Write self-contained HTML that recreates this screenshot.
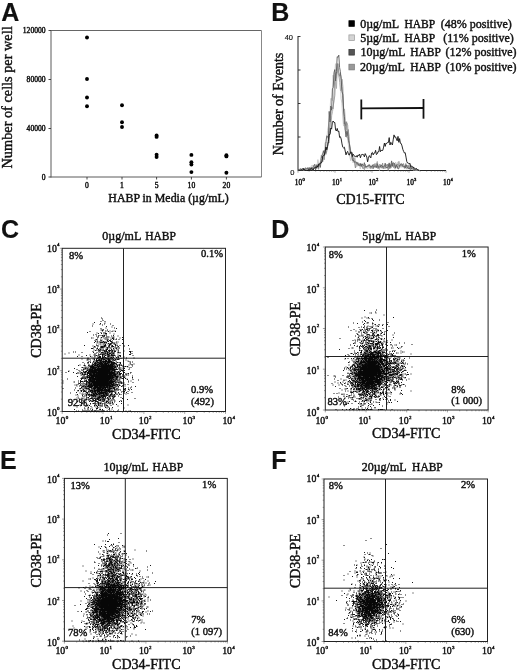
<!DOCTYPE html>
<html><head><meta charset="utf-8"><title>Figure</title>
<style>
html,body{margin:0;padding:0;background:#fff;}
svg{display:block;filter:blur(.45px);}
text{font-family:"Liberation Serif",serif;fill:#111;stroke:#111;stroke-width:.42px;}
text.s{font-family:"Liberation Sans",sans-serif;stroke-width:.15px;}
</style></head>
<body>
<svg width="520" height="671" viewBox="0 0 520 671">
<rect width="520" height="671" fill="#fff"/>
<text x="1.2" y="20.9" font-size="25" class="s" font-weight="bold">A</text>
<line x1="51" y1="30.5" x2="261.5" y2="30.5" stroke="#555" stroke-width="0.9"/>
<line x1="261.5" y1="30.5" x2="261.5" y2="177" stroke="#888" stroke-width="1"/>
<line x1="51" y1="30.0" x2="51" y2="177.5" stroke="#5a5a5a" stroke-width="1"/>
<line x1="51" y1="177" x2="261.5" y2="177" stroke="#5a5a5a" stroke-width="1"/>
<line x1="48.5" y1="30.5" x2="51" y2="30.5" stroke="#333" stroke-width="0.9"/>
<text x="45.6" y="33.1" font-size="7.6" text-anchor="end">120000</text>
<line x1="48.5" y1="79.5" x2="51" y2="79.5" stroke="#333" stroke-width="0.9"/>
<text x="45.6" y="82.1" font-size="7.6" text-anchor="end">80000</text>
<line x1="48.5" y1="128.5" x2="51" y2="128.5" stroke="#333" stroke-width="0.9"/>
<text x="45.6" y="131.1" font-size="7.6" text-anchor="end">40000</text>
<line x1="48.5" y1="177" x2="51" y2="177" stroke="#333" stroke-width="0.9"/>
<text x="45.6" y="179.6" font-size="7.6" text-anchor="end">0</text>
<line x1="87" y1="177" x2="87" y2="179.5" stroke="#333" stroke-width="0.9"/>
<text x="87" y="188" font-size="7.6" text-anchor="middle">0</text>
<line x1="122" y1="177" x2="122" y2="179.5" stroke="#333" stroke-width="0.9"/>
<text x="122" y="188" font-size="7.6" text-anchor="middle">1</text>
<line x1="156.6" y1="177" x2="156.6" y2="179.5" stroke="#333" stroke-width="0.9"/>
<text x="156.6" y="188" font-size="7.6" text-anchor="middle">5</text>
<line x1="191.4" y1="177" x2="191.4" y2="179.5" stroke="#333" stroke-width="0.9"/>
<text x="191.4" y="188" font-size="7.6" text-anchor="middle">10</text>
<line x1="226.4" y1="177" x2="226.4" y2="179.5" stroke="#333" stroke-width="0.9"/>
<text x="226.4" y="188" font-size="7.6" text-anchor="middle">20</text>
<circle cx="87" cy="37.5" r="1.95"/>
<circle cx="87" cy="79" r="1.95"/>
<circle cx="87" cy="97.5" r="1.95"/>
<circle cx="87" cy="106.2" r="1.95"/>
<circle cx="122" cy="105.3" r="1.95"/>
<circle cx="122" cy="122.3" r="1.95"/>
<circle cx="122" cy="127" r="1.95"/>
<circle cx="156.6" cy="135.5" r="1.95"/>
<circle cx="156.6" cy="136.9" r="1.95"/>
<circle cx="156.6" cy="154.8" r="1.95"/>
<circle cx="156.6" cy="157" r="1.95"/>
<circle cx="191.4" cy="154.9" r="1.95"/>
<circle cx="191.4" cy="162.2" r="1.95"/>
<circle cx="191.4" cy="164.6" r="1.95"/>
<circle cx="191.4" cy="172.1" r="1.95"/>
<circle cx="226.4" cy="155.2" r="1.95"/>
<circle cx="226.4" cy="156.4" r="1.95"/>
<circle cx="226.4" cy="172.7" r="1.95"/>
<text transform="translate(12.2 97.4) rotate(-90)" font-size="14.3" text-anchor="middle">Number of cells per well</text>
<text x="168.5" y="202" font-size="11.9" text-anchor="middle">HABP in Media (µg/mL)</text>
<text x="271.3" y="20.8" font-size="25" class="s" font-weight="bold">B</text>
<line x1="298" y1="36.0" x2="298" y2="171.0" stroke="#222" stroke-width="1"/>
<line x1="298" y1="170.5" x2="446" y2="170.5" stroke="#222" stroke-width="1"/>
<line x1="298" y1="36.5" x2="300.5" y2="36.5" stroke="#222" stroke-width="0.9"/>
<line x1="298" y1="70.0" x2="300.5" y2="70.0" stroke="#222" stroke-width="0.9"/>
<line x1="298" y1="103.5" x2="300.5" y2="103.5" stroke="#222" stroke-width="0.9"/>
<line x1="298" y1="137.0" x2="300.5" y2="137.0" stroke="#222" stroke-width="0.9"/>
<line x1="298" y1="170.5" x2="300.5" y2="170.5" stroke="#222" stroke-width="0.9"/>
<text x="293" y="40.2" font-size="7.5" text-anchor="end" class="s">40</text>
<text x="294.5" y="174.5" font-size="7.5" text-anchor="end" class="s">0</text>
<text x="294.8" y="184.6" font-size="7.3">10<tspan font-size="4.6" dx="0.3" dy="-4.0">0</tspan></text>
<text x="332.1" y="184.6" font-size="7.3">10<tspan font-size="4.6" dx="0.3" dy="-4.0">1</tspan></text>
<text x="368.4" y="184.6" font-size="7.3">10<tspan font-size="4.6" dx="0.3" dy="-4.0">2</tspan></text>
<text x="406.5" y="184.6" font-size="7.3">10<tspan font-size="4.6" dx="0.3" dy="-4.0">3</tspan></text>
<text x="443" y="184.6" font-size="7.3">10<tspan font-size="4.6" dx="0.3" dy="-4.0">4</tspan></text>
<line x1="298.0" y1="170.5" x2="298.0" y2="172.7" stroke="#444" stroke-width="0.5"/>
<line x1="309.1" y1="170.5" x2="309.1" y2="171.7" stroke="#444" stroke-width="0.5"/>
<line x1="315.7" y1="170.5" x2="315.7" y2="171.7" stroke="#444" stroke-width="0.5"/>
<line x1="320.3" y1="170.5" x2="320.3" y2="171.7" stroke="#444" stroke-width="0.5"/>
<line x1="323.9" y1="170.5" x2="323.9" y2="171.7" stroke="#444" stroke-width="0.5"/>
<line x1="326.8" y1="170.5" x2="326.8" y2="171.7" stroke="#444" stroke-width="0.5"/>
<line x1="329.3" y1="170.5" x2="329.3" y2="171.7" stroke="#444" stroke-width="0.5"/>
<line x1="331.4" y1="170.5" x2="331.4" y2="171.7" stroke="#444" stroke-width="0.5"/>
<line x1="333.3" y1="170.5" x2="333.3" y2="171.7" stroke="#444" stroke-width="0.5"/>
<line x1="335.0" y1="170.5" x2="335.0" y2="172.7" stroke="#444" stroke-width="0.5"/>
<line x1="346.1" y1="170.5" x2="346.1" y2="171.7" stroke="#444" stroke-width="0.5"/>
<line x1="352.7" y1="170.5" x2="352.7" y2="171.7" stroke="#444" stroke-width="0.5"/>
<line x1="357.3" y1="170.5" x2="357.3" y2="171.7" stroke="#444" stroke-width="0.5"/>
<line x1="360.9" y1="170.5" x2="360.9" y2="171.7" stroke="#444" stroke-width="0.5"/>
<line x1="363.8" y1="170.5" x2="363.8" y2="171.7" stroke="#444" stroke-width="0.5"/>
<line x1="366.3" y1="170.5" x2="366.3" y2="171.7" stroke="#444" stroke-width="0.5"/>
<line x1="368.4" y1="170.5" x2="368.4" y2="171.7" stroke="#444" stroke-width="0.5"/>
<line x1="370.3" y1="170.5" x2="370.3" y2="171.7" stroke="#444" stroke-width="0.5"/>
<line x1="372.0" y1="170.5" x2="372.0" y2="172.7" stroke="#444" stroke-width="0.5"/>
<line x1="383.1" y1="170.5" x2="383.1" y2="171.7" stroke="#444" stroke-width="0.5"/>
<line x1="389.7" y1="170.5" x2="389.7" y2="171.7" stroke="#444" stroke-width="0.5"/>
<line x1="394.3" y1="170.5" x2="394.3" y2="171.7" stroke="#444" stroke-width="0.5"/>
<line x1="397.9" y1="170.5" x2="397.9" y2="171.7" stroke="#444" stroke-width="0.5"/>
<line x1="400.8" y1="170.5" x2="400.8" y2="171.7" stroke="#444" stroke-width="0.5"/>
<line x1="403.3" y1="170.5" x2="403.3" y2="171.7" stroke="#444" stroke-width="0.5"/>
<line x1="405.4" y1="170.5" x2="405.4" y2="171.7" stroke="#444" stroke-width="0.5"/>
<line x1="407.3" y1="170.5" x2="407.3" y2="171.7" stroke="#444" stroke-width="0.5"/>
<line x1="409.0" y1="170.5" x2="409.0" y2="172.7" stroke="#444" stroke-width="0.5"/>
<line x1="420.1" y1="170.5" x2="420.1" y2="171.7" stroke="#444" stroke-width="0.5"/>
<line x1="426.7" y1="170.5" x2="426.7" y2="171.7" stroke="#444" stroke-width="0.5"/>
<line x1="431.3" y1="170.5" x2="431.3" y2="171.7" stroke="#444" stroke-width="0.5"/>
<line x1="434.9" y1="170.5" x2="434.9" y2="171.7" stroke="#444" stroke-width="0.5"/>
<line x1="437.8" y1="170.5" x2="437.8" y2="171.7" stroke="#444" stroke-width="0.5"/>
<line x1="440.3" y1="170.5" x2="440.3" y2="171.7" stroke="#444" stroke-width="0.5"/>
<line x1="442.4" y1="170.5" x2="442.4" y2="171.7" stroke="#444" stroke-width="0.5"/>
<line x1="444.3" y1="170.5" x2="444.3" y2="171.7" stroke="#444" stroke-width="0.5"/>
<line x1="446" y1="170.5" x2="446" y2="172.7" stroke="#444" stroke-width="0.5"/>
<text x="370.4" y="204.2" font-size="14" text-anchor="middle">CD15-FITC</text>
<text transform="translate(283 104) rotate(-90)" font-size="14" text-anchor="middle">Number of Events</text>
<polyline points="297.1,170.3 297.9,170.4 298.7,169.9 299.5,169.3 300.3,169.5 301.1,168.9 301.9,169.8 302.7,170.5 303.5,169.1 304.3,168.9 305.1,170.0 305.9,169.7 306.7,169.4 307.5,168.1 308.3,169.1 309.1,169.9 309.9,167.1 310.7,167.9 311.5,165.6 312.3,166.1 313.1,164.9 313.9,167.0 314.7,164.7 315.5,166.8 316.3,166.1 317.1,164.9 317.9,159.6 318.7,163.1 319.5,163.2 320.3,161.6 321.1,155.3 321.9,156.1 322.7,152.5 323.5,150.0 324.3,153.0 325.1,142.7 325.9,142.3 326.7,142.8 327.5,130.5 328.3,126.4 329.1,121.3 329.9,114.2 330.7,98.5 331.5,98.5 332.3,100.7 333.1,75.1 333.9,85.5 334.7,74.6 335.5,63.7 336.3,78.3 337.1,72.9 337.9,63.4 338.7,74.0 339.5,79.0 340.3,82.1 341.1,98.8 341.9,103.1 342.7,116.0 343.5,126.1 344.3,120.9 345.1,130.0 345.9,131.0 346.7,137.8 347.5,136.7 348.3,144.2 349.1,150.5 349.9,157.1 350.7,160.6 351.5,155.5 352.3,158.2 353.1,163.0 353.9,158.0 354.7,162.8 355.5,164.0 356.3,167.2 357.1,166.4 357.9,164.8 358.7,165.1 359.5,165.7 360.3,169.0 361.1,165.5 361.9,165.8 362.7,167.1 363.5,166.3 364.3,166.3 365.1,164.8 365.9,166.7 366.7,166.1 367.5,168.9 368.3,168.1 369.1,167.0 369.9,168.2 370.7,166.5 371.5,168.7 372.3,166.9 373.1,167.9 373.9,164.6 374.7,167.4 375.5,163.8 376.3,163.2 377.1,166.1 377.9,165.0 378.7,166.8 379.5,170.4 380.3,164.9 381.1,165.2 381.9,166.6 382.7,167.1 383.5,165.9 384.3,165.8 385.1,167.4 385.9,167.0 386.7,164.1 387.5,165.8 388.3,166.0 389.1,163.9 389.9,166.3 390.7,164.2 391.5,167.6 392.3,166.1 393.1,165.9 393.9,164.5 394.7,165.5 395.5,162.0 396.3,163.6 397.1,166.5 397.9,161.9 398.7,167.4 399.5,162.7 400.3,167.3 401.1,164.4 401.9,167.5 402.7,166.3 403.5,163.3 404.3,168.4 405.1,169.0 405.9,166.5 406.7,166.4 407.5,166.9 408.3,165.8 409.1,169.3 409.9,167.2 410.7,168.3 411.5,167.7 412.3,168.4 413.1,168.2 413.9,170.5 414.7,169.7 415.5,170.5 416.3,170.2 417.1,169.8 417.9,170.3" fill="none" stroke="#c8c8c8" stroke-width="0.9" stroke-linejoin="round"/>
<polyline points="298.9,169.9 299.7,170.2 300.5,169.9 301.3,169.8 302.1,168.8 302.9,169.2 303.7,170.5 304.5,169.1 305.3,168.6 306.1,169.9 306.9,170.5 307.7,167.8 308.5,169.1 309.3,168.5 310.1,167.1 310.9,170.0 311.7,168.8 312.5,168.7 313.3,167.3 314.1,168.7 314.9,167.0 315.7,167.3 316.5,165.1 317.3,164.3 318.1,168.4 318.9,164.5 319.7,165.5 320.5,164.4 321.3,162.7 322.1,160.5 322.9,161.5 323.7,157.2 324.5,155.7 325.3,153.5 326.1,154.3 326.9,149.4 327.7,145.1 328.5,137.9 329.3,128.4 330.1,133.4 330.9,127.8 331.7,115.4 332.5,111.7 333.3,105.9 334.1,100.4 334.9,95.3 335.7,80.0 336.5,88.5 337.3,63.6 338.1,73.9 338.9,75.0 339.7,82.5 340.5,90.8 341.3,89.3 342.1,79.2 342.9,86.8 343.7,111.1 344.5,108.9 345.3,120.4 346.1,130.5 346.9,122.9 347.7,125.1 348.5,139.7 349.3,142.9 350.1,146.5 350.9,152.1 351.7,152.2 352.5,153.5 353.3,159.1 354.1,158.2 354.9,157.9 355.7,164.1 356.5,164.0 357.3,165.3 358.1,162.8 358.9,163.9 359.7,163.7 360.5,164.4 361.3,166.7 362.1,165.0 362.9,167.1 363.7,167.1 364.5,170.1 365.3,164.3 366.1,168.3 366.9,166.7 367.7,166.9 368.5,164.6 369.3,166.3 370.1,168.3 370.9,167.1 371.7,167.4 372.5,166.7 373.3,169.0 374.1,167.0 374.9,163.4 375.7,165.8 376.5,163.6 377.3,161.4 378.1,165.9 378.9,169.0 379.7,166.8 380.5,164.6 381.3,165.0 382.1,168.5 382.9,166.8 383.7,166.5 384.5,166.3 385.3,166.4 386.1,167.7 386.9,167.3 387.7,166.6 388.5,164.3 389.3,167.1 390.1,164.9 390.9,168.1 391.7,163.7 392.5,165.8 393.3,166.0 394.1,163.5 394.9,169.1 395.7,168.6 396.5,165.0 397.3,167.3 398.1,166.7 398.9,161.2 399.7,166.5 400.5,166.0 401.3,166.3 402.1,164.2 402.9,165.7 403.7,165.9 404.5,168.4 405.3,166.9 406.1,166.4 406.9,169.2 407.7,165.9 408.5,166.4 409.3,164.3 410.1,169.9 410.9,169.2 411.7,169.4 412.5,169.4 413.3,169.0 414.1,169.4 414.9,169.3 415.7,169.5 416.5,169.9 417.3,170.5 418.1,170.5 418.9,170.3 419.7,170.2" fill="none" stroke="#a8a8a8" stroke-width="0.9" stroke-linejoin="round"/>
<polyline points="298.6,169.9 299.4,170.5 300.2,170.5 301.0,170.1 301.8,169.7 302.6,168.9 303.4,169.7 304.2,170.5 305.0,169.2 305.8,169.3 306.6,169.2 307.4,169.5 308.2,167.5 309.0,169.0 309.8,168.2 310.6,170.1 311.4,167.8 312.2,169.3 313.0,170.4 313.8,167.6 314.6,166.8 315.4,167.7 316.2,166.9 317.0,164.6 317.8,166.7 318.6,169.3 319.4,164.3 320.2,163.9 321.0,161.2 321.8,162.3 322.6,156.3 323.4,154.6 324.2,159.7 325.0,150.1 325.8,153.5 326.6,152.1 327.4,144.0 328.2,142.0 329.0,142.9 329.8,126.9 330.6,118.7 331.4,107.5 332.2,107.4 333.0,108.8 333.8,99.7 334.6,81.0 335.4,75.3 336.2,72.1 337.0,72.7 337.8,63.8 338.6,70.9 339.4,76.3 340.2,73.4 341.0,76.5 341.8,86.6 342.6,95.4 343.4,107.9 344.2,123.9 345.0,122.5 345.8,125.6 346.6,121.7 347.4,135.7 348.2,129.5 349.0,136.4 349.8,150.1 350.6,154.0 351.4,154.1 352.2,152.6 353.0,158.3 353.8,158.8 354.6,163.2 355.4,168.0 356.2,164.4 357.0,162.7 357.8,162.3 358.6,165.0 359.4,165.2 360.2,163.8 361.0,166.4 361.8,164.3 362.6,168.4 363.4,168.3 364.2,168.4 365.0,165.8 365.8,167.6 366.6,166.5 367.4,166.2 368.2,166.3 369.0,164.8 369.8,164.7 370.6,168.4 371.4,166.8 372.2,167.5 373.0,168.7 373.8,164.1 374.6,165.6 375.4,167.2 376.2,167.5 377.0,166.1 377.8,168.5 378.6,167.0 379.4,164.5 380.2,165.0 381.0,167.9 381.8,167.3 382.6,163.1 383.4,168.8 384.2,167.4 385.0,168.7 385.8,165.5 386.6,165.6 387.4,164.1 388.2,170.5 389.0,165.7 389.8,168.9 390.6,164.8 391.4,166.3 392.2,162.8 393.0,165.2 393.8,167.7 394.6,163.5 395.4,167.8 396.2,166.4 397.0,163.9 397.8,164.9 398.6,165.0 399.4,165.8 400.2,165.0 401.0,164.5 401.8,165.5 402.6,164.2 403.4,163.8 404.2,166.1 405.0,167.8 405.8,163.5 406.6,166.5 407.4,165.6 408.2,165.3 409.0,168.6 409.8,166.6 410.6,169.9 411.4,166.9 412.2,168.9 413.0,168.5 413.8,168.3 414.6,170.2 415.4,169.6 416.2,170.4 417.0,170.0 417.8,169.3 418.6,170.2 419.4,170.5" fill="none" stroke="#8a8a8a" stroke-width="0.9" stroke-linejoin="round"/>
<polyline points="298.0,170.5 298.8,169.5 299.6,170.1 300.4,168.6 301.2,170.5 302.0,168.8 302.8,168.0 303.6,169.6 304.4,170.5 305.2,167.9 306.0,168.2 306.8,168.5 307.6,168.0 308.4,169.6 309.2,168.1 310.0,168.1 310.8,169.5 311.6,167.4 312.4,168.8 313.2,166.4 314.0,165.7 314.8,164.3 315.6,169.9 316.4,165.6 317.2,166.1 318.0,165.0 318.8,164.9 319.6,164.1 320.4,167.4 321.2,158.5 322.0,154.8 322.8,154.1 323.6,150.9 324.4,154.6 325.2,151.6 326.0,141.3 326.8,135.8 327.6,136.5 328.4,138.5 329.2,111.4 330.0,122.0 330.8,106.0 331.6,110.1 332.4,88.9 333.2,87.5 334.0,72.6 334.8,69.6 335.6,80.9 336.4,71.4 337.2,56.7 338.0,57.4 338.8,55.1 339.6,67.6 340.4,71.7 341.2,80.1 342.0,91.4 342.8,94.5 343.6,110.0 344.4,116.4 345.2,129.6 346.0,136.9 346.8,131.3 347.6,132.8 348.4,140.4 349.2,143.3 350.0,148.0 350.8,153.5 351.6,153.8 352.4,160.4 353.2,159.7 354.0,161.8 354.8,162.0 355.6,162.0 356.4,162.0 357.2,163.9 358.0,163.7 358.8,165.7 359.6,165.6 360.4,163.5 361.2,166.2 362.0,163.7 362.8,165.1 363.6,165.8 364.4,162.7 365.2,166.6 366.0,166.8 366.8,166.4 367.6,166.0 368.4,166.2 369.2,165.2 370.0,166.5 370.8,166.1 371.6,167.1 372.4,164.8 373.2,167.2 374.0,167.0 374.8,166.5 375.6,165.9 376.4,167.6 377.2,163.6 378.0,167.3 378.8,166.9 379.6,166.9 380.4,167.0 381.2,165.1 382.0,165.7 382.8,167.3 383.6,166.9 384.4,166.4 385.2,163.2 386.0,166.9 386.8,168.1 387.6,167.7 388.4,166.3 389.2,162.9 390.0,167.5 390.8,165.4 391.6,160.9 392.4,166.3 393.2,162.8 394.0,163.1 394.8,164.3 395.6,168.0 396.4,164.9 397.2,166.1 398.0,169.0 398.8,168.7 399.6,165.5 400.4,165.3 401.2,163.5 402.0,164.6 402.8,166.7 403.6,166.7 404.4,166.2 405.2,167.9 406.0,164.9 406.8,166.4 407.6,168.0 408.4,168.0 409.2,169.0 410.0,168.1 410.8,167.4 411.6,168.8 412.4,167.4 413.2,167.2 414.0,170.1 414.8,169.6 415.6,170.1 416.4,168.5 417.2,169.9 418.0,169.9 418.8,170.0" fill="none" stroke="#5c5c5c" stroke-width="0.9" stroke-linejoin="round"/>
<polyline points="298.0,169.7 298.8,170.3 299.6,170.5 300.4,170.5 301.2,170.0 302.0,170.2 302.8,170.5 303.6,168.5 304.4,170.0 305.2,170.3 306.0,170.4 306.8,170.5 307.6,170.5 308.4,169.9 309.2,169.7 310.0,169.8 310.8,168.6 311.6,168.8 312.4,169.4 313.2,170.1 314.0,168.0 314.8,167.8 315.6,167.4 316.4,168.1 317.2,166.0 318.0,167.2 318.8,163.7 319.6,164.0 320.4,163.1 321.2,162.9 322.0,161.7 322.8,156.0 323.6,155.3 324.4,155.3 325.2,151.1 326.0,147.0 326.8,149.8 327.6,146.4 328.4,141.8 329.2,134.5 330.0,134.5 330.8,128.1 331.6,129.1 332.4,122.2 333.2,121.0 334.0,122.6 334.8,122.5 335.6,130.0 336.4,131.0 337.2,128.4 338.0,131.6 338.8,131.1 339.6,137.4 340.4,136.7 341.2,139.0 342.0,143.9 342.8,147.2 343.6,147.9 344.4,147.2 345.2,151.0 346.0,154.9 346.8,152.4 347.6,151.4 348.4,154.0 349.2,155.2 350.0,153.1 350.8,151.9 351.6,152.5 352.4,156.5 353.2,154.2 354.0,155.5 354.8,156.2 355.6,157.1 356.4,155.7 357.2,157.2 358.0,154.9 358.8,155.6 359.6,154.2 360.4,157.8 361.2,155.5 362.0,154.1 362.8,154.6 363.6,154.7 364.4,156.9 365.2,153.6 366.0,155.2 366.8,157.0 367.6,161.8 368.4,158.4 369.2,155.7 370.0,156.3 370.8,157.9 371.6,153.1 372.4,152.4 373.2,154.9 374.0,153.1 374.8,153.0 375.6,150.3 376.4,154.6 377.2,153.9 378.0,151.6 378.8,151.8 379.6,146.5 380.4,151.7 381.2,150.1 382.0,150.9 382.8,150.3 383.6,147.1 384.4,143.1 385.2,146.4 386.0,143.1 386.8,143.5 387.6,142.4 388.4,142.5 389.2,137.6 390.0,145.0 390.8,142.3 391.6,143.6 392.4,145.0 393.2,139.8 394.0,134.9 394.8,137.2 395.6,136.9 396.4,139.0 397.2,140.8 398.0,136.4 398.8,142.3 399.6,138.6 400.4,143.3 401.2,143.5 402.0,145.9 402.8,149.3 403.6,151.3 404.4,153.0 405.2,152.7 406.0,157.1 406.8,161.6 407.6,163.0 408.4,163.3 409.2,163.7 410.0,163.3 410.8,167.0 411.6,165.9 412.4,166.6 413.2,167.0 414.0,168.0 414.8,168.2 415.6,169.0 416.4,168.6 417.2,169.4 418.0,170.5 418.8,170.2" fill="none" stroke="#111" stroke-width="0.9" stroke-linejoin="round"/>
<line x1="361.3" y1="108.4" x2="423.5" y2="108.0" stroke="#111" stroke-width="1.8"/>
<line x1="361.3" y1="99.5" x2="361.3" y2="119.4" stroke="#111" stroke-width="1.8"/>
<line x1="423.5" y1="99" x2="423.5" y2="118.7" stroke="#111" stroke-width="1.8"/>
<rect x="348.9" y="20.7" width="5.5" height="5.7" fill="#000" stroke="#000" stroke-width="0.7"/>
<text x="360.2" y="27.5" font-size="12">0µg/mL</text>
<text x="404.4" y="27.5" font-size="11.5">HABP</text>
<text x="440.8" y="27.5" font-size="12">(48% positive)</text>
<rect x="348.9" y="34.9" width="5.5" height="5.7" fill="#d4d4d4" stroke="#999" stroke-width="0.7"/>
<text x="360.2" y="41.7" font-size="12">5µg/mL</text>
<text x="404.4" y="41.7" font-size="11.5">HABP</text>
<text x="443.2" y="41.7" font-size="12">(11% positive)</text>
<rect x="348.9" y="49.4" width="5.5" height="5.7" fill="#555" stroke="#333" stroke-width="0.7"/>
<text x="360.4" y="56.2" font-size="12">10µg/mL</text>
<text x="410.2" y="56.2" font-size="11.5">HABP</text>
<text x="445.6" y="56.2" font-size="12">(12% positive)</text>
<rect x="348.9" y="64.2" width="5.5" height="5.7" fill="#999" stroke="#777" stroke-width="0.7"/>
<text x="360.0" y="71.0" font-size="12">20µg/mL</text>
<text x="410.2" y="71.0" font-size="11.5">HABP</text>
<text x="445.6" y="71.0" font-size="12">(10% positive)</text>
<text x="1.0" y="238.4" font-size="25" class="s" font-weight="bold">C</text>
<rect x="62.2" y="248.3" width="163.3" height="163.2" fill="none" stroke="#222" stroke-width="1"/>
<line x1="123.5" y1="248.3" x2="123.5" y2="411.5" stroke="#222" stroke-width="1"/>
<line x1="62.2" y1="358.2" x2="225.5" y2="358.2" stroke="#222" stroke-width="1"/>
<line x1="59.800000000000004" y1="411.5" x2="62.2" y2="411.5" stroke="#333" stroke-width="0.45"/>
<line x1="62.2" y1="411.5" x2="62.2" y2="413.9" stroke="#333" stroke-width="0.45"/>
<line x1="60.900000000000006" y1="399.2" x2="62.2" y2="399.2" stroke="#333" stroke-width="0.45"/>
<line x1="74.5" y1="411.5" x2="74.5" y2="412.8" stroke="#333" stroke-width="0.45"/>
<line x1="60.900000000000006" y1="392.0" x2="62.2" y2="392.0" stroke="#333" stroke-width="0.45"/>
<line x1="81.7" y1="411.5" x2="81.7" y2="412.8" stroke="#333" stroke-width="0.45"/>
<line x1="60.900000000000006" y1="386.9" x2="62.2" y2="386.9" stroke="#333" stroke-width="0.45"/>
<line x1="86.8" y1="411.5" x2="86.8" y2="412.8" stroke="#333" stroke-width="0.45"/>
<line x1="60.900000000000006" y1="383.0" x2="62.2" y2="383.0" stroke="#333" stroke-width="0.45"/>
<line x1="90.7" y1="411.5" x2="90.7" y2="412.8" stroke="#333" stroke-width="0.45"/>
<line x1="60.900000000000006" y1="379.8" x2="62.2" y2="379.8" stroke="#333" stroke-width="0.45"/>
<line x1="94.0" y1="411.5" x2="94.0" y2="412.8" stroke="#333" stroke-width="0.45"/>
<line x1="60.900000000000006" y1="377.0" x2="62.2" y2="377.0" stroke="#333" stroke-width="0.45"/>
<line x1="96.7" y1="411.5" x2="96.7" y2="412.8" stroke="#333" stroke-width="0.45"/>
<line x1="60.900000000000006" y1="374.7" x2="62.2" y2="374.7" stroke="#333" stroke-width="0.45"/>
<line x1="99.1" y1="411.5" x2="99.1" y2="412.8" stroke="#333" stroke-width="0.45"/>
<line x1="60.900000000000006" y1="372.6" x2="62.2" y2="372.6" stroke="#333" stroke-width="0.45"/>
<line x1="101.2" y1="411.5" x2="101.2" y2="412.8" stroke="#333" stroke-width="0.45"/>
<line x1="59.800000000000004" y1="370.7" x2="62.2" y2="370.7" stroke="#333" stroke-width="0.45"/>
<line x1="103.0" y1="411.5" x2="103.0" y2="413.9" stroke="#333" stroke-width="0.45"/>
<line x1="60.900000000000006" y1="358.4" x2="62.2" y2="358.4" stroke="#333" stroke-width="0.45"/>
<line x1="115.3" y1="411.5" x2="115.3" y2="412.8" stroke="#333" stroke-width="0.45"/>
<line x1="60.900000000000006" y1="351.2" x2="62.2" y2="351.2" stroke="#333" stroke-width="0.45"/>
<line x1="122.5" y1="411.5" x2="122.5" y2="412.8" stroke="#333" stroke-width="0.45"/>
<line x1="60.900000000000006" y1="346.1" x2="62.2" y2="346.1" stroke="#333" stroke-width="0.45"/>
<line x1="127.6" y1="411.5" x2="127.6" y2="412.8" stroke="#333" stroke-width="0.45"/>
<line x1="60.900000000000006" y1="342.2" x2="62.2" y2="342.2" stroke="#333" stroke-width="0.45"/>
<line x1="131.6" y1="411.5" x2="131.6" y2="412.8" stroke="#333" stroke-width="0.45"/>
<line x1="60.900000000000006" y1="339.0" x2="62.2" y2="339.0" stroke="#333" stroke-width="0.45"/>
<line x1="134.8" y1="411.5" x2="134.8" y2="412.8" stroke="#333" stroke-width="0.45"/>
<line x1="60.900000000000006" y1="336.2" x2="62.2" y2="336.2" stroke="#333" stroke-width="0.45"/>
<line x1="137.5" y1="411.5" x2="137.5" y2="412.8" stroke="#333" stroke-width="0.45"/>
<line x1="60.900000000000006" y1="333.9" x2="62.2" y2="333.9" stroke="#333" stroke-width="0.45"/>
<line x1="139.9" y1="411.5" x2="139.9" y2="412.8" stroke="#333" stroke-width="0.45"/>
<line x1="60.900000000000006" y1="331.8" x2="62.2" y2="331.8" stroke="#333" stroke-width="0.45"/>
<line x1="142.0" y1="411.5" x2="142.0" y2="412.8" stroke="#333" stroke-width="0.45"/>
<line x1="59.800000000000004" y1="329.9" x2="62.2" y2="329.9" stroke="#333" stroke-width="0.45"/>
<line x1="143.9" y1="411.5" x2="143.9" y2="413.9" stroke="#333" stroke-width="0.45"/>
<line x1="60.900000000000006" y1="317.6" x2="62.2" y2="317.6" stroke="#333" stroke-width="0.45"/>
<line x1="156.1" y1="411.5" x2="156.1" y2="412.8" stroke="#333" stroke-width="0.45"/>
<line x1="60.900000000000006" y1="310.4" x2="62.2" y2="310.4" stroke="#333" stroke-width="0.45"/>
<line x1="163.3" y1="411.5" x2="163.3" y2="412.8" stroke="#333" stroke-width="0.45"/>
<line x1="60.900000000000006" y1="305.3" x2="62.2" y2="305.3" stroke="#333" stroke-width="0.45"/>
<line x1="168.4" y1="411.5" x2="168.4" y2="412.8" stroke="#333" stroke-width="0.45"/>
<line x1="60.900000000000006" y1="301.4" x2="62.2" y2="301.4" stroke="#333" stroke-width="0.45"/>
<line x1="172.4" y1="411.5" x2="172.4" y2="412.8" stroke="#333" stroke-width="0.45"/>
<line x1="60.900000000000006" y1="298.2" x2="62.2" y2="298.2" stroke="#333" stroke-width="0.45"/>
<line x1="175.6" y1="411.5" x2="175.6" y2="412.8" stroke="#333" stroke-width="0.45"/>
<line x1="60.900000000000006" y1="295.4" x2="62.2" y2="295.4" stroke="#333" stroke-width="0.45"/>
<line x1="178.4" y1="411.5" x2="178.4" y2="412.8" stroke="#333" stroke-width="0.45"/>
<line x1="60.900000000000006" y1="293.1" x2="62.2" y2="293.1" stroke="#333" stroke-width="0.45"/>
<line x1="180.7" y1="411.5" x2="180.7" y2="412.8" stroke="#333" stroke-width="0.45"/>
<line x1="60.900000000000006" y1="291.0" x2="62.2" y2="291.0" stroke="#333" stroke-width="0.45"/>
<line x1="182.8" y1="411.5" x2="182.8" y2="412.8" stroke="#333" stroke-width="0.45"/>
<line x1="59.800000000000004" y1="289.1" x2="62.2" y2="289.1" stroke="#333" stroke-width="0.45"/>
<line x1="184.7" y1="411.5" x2="184.7" y2="413.9" stroke="#333" stroke-width="0.45"/>
<line x1="60.900000000000006" y1="276.8" x2="62.2" y2="276.8" stroke="#333" stroke-width="0.45"/>
<line x1="197.0" y1="411.5" x2="197.0" y2="412.8" stroke="#333" stroke-width="0.45"/>
<line x1="60.900000000000006" y1="269.6" x2="62.2" y2="269.6" stroke="#333" stroke-width="0.45"/>
<line x1="204.2" y1="411.5" x2="204.2" y2="412.8" stroke="#333" stroke-width="0.45"/>
<line x1="60.900000000000006" y1="264.5" x2="62.2" y2="264.5" stroke="#333" stroke-width="0.45"/>
<line x1="209.3" y1="411.5" x2="209.3" y2="412.8" stroke="#333" stroke-width="0.45"/>
<line x1="60.900000000000006" y1="260.6" x2="62.2" y2="260.6" stroke="#333" stroke-width="0.45"/>
<line x1="213.2" y1="411.5" x2="213.2" y2="412.8" stroke="#333" stroke-width="0.45"/>
<line x1="60.900000000000006" y1="257.4" x2="62.2" y2="257.4" stroke="#333" stroke-width="0.45"/>
<line x1="216.4" y1="411.5" x2="216.4" y2="412.8" stroke="#333" stroke-width="0.45"/>
<line x1="60.900000000000006" y1="254.6" x2="62.2" y2="254.6" stroke="#333" stroke-width="0.45"/>
<line x1="219.2" y1="411.5" x2="219.2" y2="412.8" stroke="#333" stroke-width="0.45"/>
<line x1="60.900000000000006" y1="252.3" x2="62.2" y2="252.3" stroke="#333" stroke-width="0.45"/>
<line x1="221.5" y1="411.5" x2="221.5" y2="412.8" stroke="#333" stroke-width="0.45"/>
<line x1="60.900000000000006" y1="250.2" x2="62.2" y2="250.2" stroke="#333" stroke-width="0.45"/>
<line x1="223.6" y1="411.5" x2="223.6" y2="412.8" stroke="#333" stroke-width="0.45"/>
<line x1="59.800000000000004" y1="248.3" x2="62.2" y2="248.3" stroke="#333" stroke-width="0.45"/>
<line x1="225.5" y1="411.5" x2="225.5" y2="413.9" stroke="#333" stroke-width="0.45"/>
<text x="102.3" y="240.4" font-size="12">0µg/mL</text>
<text x="145.2" y="240.4" font-size="11.5">HABP</text>
<text x="47.0" y="415.8" font-size="9.8">10<tspan font-size="5" dx="0.3" dy="-5.4">0</tspan></text>
<text x="47.0" y="374.8" font-size="9.8">10<tspan font-size="5" dx="0.3" dy="-5.4">2</tspan></text>
<text x="47.0" y="333.3" font-size="9.8">10<tspan font-size="5" dx="0.3" dy="-5.4">2</tspan></text>
<text x="47.0" y="293.0" font-size="9.8">10<tspan font-size="5" dx="0.3" dy="-5.4">3</tspan></text>
<text x="47.0" y="251.7" font-size="9.8">10<tspan font-size="5" dx="0.3" dy="-5.4">4</tspan></text>
<text x="55.6" y="424.2" font-size="9.8">10<tspan font-size="5" dx="0.3" dy="-5.4">0</tspan></text>
<text x="99.8" y="424.2" font-size="9.8">10<tspan font-size="5" dx="0.3" dy="-5.4">1</tspan></text>
<text x="138.8" y="424.2" font-size="9.8">10<tspan font-size="5" dx="0.3" dy="-5.4">2</tspan></text>
<text x="182.5" y="424.2" font-size="9.8">10<tspan font-size="5" dx="0.3" dy="-5.4">3</tspan></text>
<text x="222.4" y="424.2" font-size="9.8">10<tspan font-size="5" dx="0.3" dy="-5.4">4</tspan></text>
<text x="146.3" y="438.5" font-size="14" text-anchor="middle">CD34-FITC</text>
<text transform="translate(40.7 330.5) rotate(-90)" font-size="14" text-anchor="middle">CD38-PE</text>
<path d="M101 318h1M102 319h1M102.5 320.5h1M100.5 321.5h1m3 0h1M94 322.5h1M104.5 323h1M100 323.5h1M92.5 324h1m10.5 0h1m5 0h1M99.5 324.5h1M102 325h1M112.5 325.5h1M92 326h1M106 326.5h1M111.5 327h1M105.5 328h1m7.5 0h1M100.5 328.5h1m14.5 0h1M102.5 329.5h1M100.5 330h1.5m1 0h1m3 0h1M102 330.5h1M102 331h1m2 0h1m.5 0h1m2 0h1m2 0h1m1 0h1M89.5 331.5h1m17.5 0h1m2.5 0h1m2.5 0h1M87 332.5h1m12.5 0h1M96.5 333h1m5.5 0h3m3.5 0h1M98 333.5h1m2 0h1m3 0h2M105.5 334h1.5m6.5 0h1M95.5 334.5h1M93 335h1m9.5 0h1m1 0h1M98.5 335.5h1m1 0h1m.5 0h1m1 0h1m8 0h1M96 336h1m1 0h1m3 0h3m1 0h1m4 0h1m5.5 0h1M103.5 336.5h1M97.5 337h1.5m3.5 0h1m3 0h3m3 0h2M101 337.5h1m3.5 0h1m15.5 0h1M91 338h1m.5 0h1m3.5 0h1m2.5 0h1m2 0h1m6 0h1m.5 0h2m5.5 0h1M112 338.5h1.5M104.5 339h4m4.5 0h1.5m1.5 0h1M95.5 339.5h2m10 0h1m2 0h1m1.5 0h1m1.5 0h1m2 0h1m2.5 0h1M100 340h1m.5 0h1M94.5 340.5h1m5 0h1m5.5 0h1m1 0h2M96.5 341h1.5m3 0h1m4.5 0h2m3.5 0h1M95 341.5h1m3.5 0h1m2 0h1.5m3.5 0h1.5m1 0h2M97 342h1.5m5 0h2.5m10 0h1m.5 0h1M94 342.5h1m4.5 0h3.5m.5 0h2m.5 0h1m4.5 0h2M96.5 343h1m6.5 0h1.5m.5 0h1m4 0h1m2 0h1m.5 0h1M108 343.5h1m1 0h1m.5 0h1m1 0h1m7.5 0h1M98.5 344h1m.5 0h1m.5 0h1m.5 0h1m.5 0h1m2 0h1m.5 0h1m1 0h1m1.5 0h1m2 0h1M105 344.5h1m3 0h2m3.5 0h1.5M96 345h1m7.5 0h1m4 0h1M84 345.5h1m11.5 0h1m6.5 0h2m2.5 0h1.5m1.5 0h1.5m2 0h1m.5 0h1m2 0h1m7.5 0h1M92.5 346h1m3.5 0h2m1.5 0h1m1 0h1.5m.5 0h2m2 0h1.5m1.5 0h1m2.5 0h1m1 0h1m6 0h1M94 346.5h1m6 0h2.5m.5 0h1.5m3 0h1m2 0h2.5m4 0h1M94 347h2m4 0h2m.5 0h2.5m3 0h1.5m1.5 0h1m.5 0h1m1 0h1M100.5 347.5h3m3 0h1.5m1.5 0h1m6 0h1M93 348h1m3 0h1m4.5 0h1m2 0h1m2 0h1m5 0h2m1.5 0h2M91 348.5h2m4 0h1m2.5 0h1m5.5 0h1m2.5 0h1m1.5 0h1m2 0h1M96 349h1m2 0h1.5m2 0h1m3 0h1m5.5 0h1m2.5 0h1m11.5 0h1M98 349.5h1m1 0h1.5m4.5 0h2m3 0h1M93.5 350h1m3 0h1.5m3.5 0h1.5m1 0h1.5m2.5 0h1m1 0h1.5m1.5 0h1m1.5 0h1m.5 0h1M95 350.5h1.5m2.5 0h1.5m1 0h1m1 0h1.5m1 0h1m1 0h3m.5 0h2m1 0h1M98 351h1m.5 0h1.5m1.5 0h1m1.5 0h1.5m2.5 0h1m8 0h1m4.5 0h1M92.5 351.5h1m10.5 0h1.5m.5 0h1.5m1.5 0h1m1.5 0h1.5m1 0h2m13 0h2m.5 0h1M73 352h1m1 0h1m22.5 0h2m4 0h2m.5 0h2.5m1 0h1.5m1.5 0h1m3 0h1m11.5 0h1M81.5 352.5h1m10.5 0h1m2.5 0h1m3.5 0h2.5m1 0h1m1.5 0h1m3.5 0h1m1 0h1m3 0h1.5m.5 0h1m9.5 0h1M68.5 353h1m33 0h1.5m1.5 0h1m.5 0h3m.5 0h1m.5 0h1.5m6 0h1m9.5 0h1M95.5 353.5h1m4 0h1m3 0h2m.5 0h1m1 0h2m.5 0h1m.5 0h1m17.5 0h1M64.5 354h1m28.5 0h1m3 0h1m2.5 0h3.5m7.5 0h1m.5 0h1m2.5 0h1m4.5 0h1M99.5 354.5h2m.5 0h1m.5 0h1m2.5 0h2.5m1.5 0h1m.5 0h1m15.5 0h2M78.5 355h1m10 0h1m3 0h1m.5 0h1m2 0h2m2 0h2m.5 0h6m.5 0h1.5M86 355.5h1m9 0h1m5 0h1m1.5 0h1.5m2.5 0h1m1.5 0h4m4 0h2m11.5 0h1M94 356h1.5m1.5 0h2m8 0h4m1.5 0h1m1.5 0h1m1.5 0h2M77 356.5h1m3.5 0h1m7.5 0h1m8 0h2m1 0h1m1 0h1m2.5 0h2m2 0h1m5 0h1m1.5 0h1M91.5 357h1m2 0h1m3.5 0h2m1.5 0h2.5m2.5 0h1.5m4 0h1m9.5 0h1M98 357.5h3m1 0h1.5m1 0h1.5m4.5 0h2m.5 0h1m2 0h1m.5 0h1.5M87.5 358h1m5 0h1m2.5 0h1m1.5 0h1.5m1.5 0h1.5m1.5 0h3m.5 0h3.5m13.5 0h1m6.5 0h1M87.5 358.5h1m8 0h2m2.5 0h2.5m3 0h1m.5 0h1m.5 0h1m1.5 0h1m7.5 0h1M81.5 359h1m10 0h1m.5 0h1m1.5 0h1m1 0h1.5m.5 0h1m2.5 0h3m.5 0h1m2 0h1m2.5 0h1m1.5 0h1m.5 0h2M87.5 359.5h1m1 0h1m3.5 0h1m1 0h1m1.5 0h2m.5 0h1.5m.5 0h2m2.5 0h3m1 0h1m.5 0h1m1 0h1m.5 0h2.5M86.5 360h2m5 0h1m1.5 0h1m1 0h1m1.5 0h1m.5 0h2.5m.5 0h1.5m.5 0h3m.5 0h1m.5 0h1m2 0h1m9.5 0h1M96 360.5h6m3 0h2m1 0h2.5m2 0h1m.5 0h1M90 361h1m3 0h4.5m.5 0h3m1 0h1m.5 0h2.5m1 0h3m2 0h1m1.5 0h1m6.5 0h1m3.5 0h1M88.5 361.5h1m3.5 0h1m2 0h1.5m2.5 0h1.5m.5 0h10.5m16 0h1M97 362h1m.5 0h1.5m.5 0h2m1 0h3.5m1 0h4.5m3.5 0h1m13 0h1m1 0h1M82.5 362.5h1m4 0h1.5m1 0h1m2.5 0h1m.5 0h1.5m.5 0h2.5m.5 0h2m.5 0h1.5m.5 0h1.5m1 0h3m.5 0h4.5m2 0h1m.5 0h1m.5 0h1M87 363h1m4 0h1m.5 0h1m.5 0h2m1.5 0h12m.5 0h1.5m.5 0h2.5m4 0h1m9 0h1M94 363.5h2m.5 0h1m1 0h5m.5 0h4.5m2.5 0h5.5m3.5 0h1M84 364h1m3 0h1m3 0h1m1.5 0h1m.5 0h4m1.5 0h1.5m1.5 0h2.5m.5 0h4.5m4 0h1m13 0h1m2.5 0h1M92.5 364.5h1.5m.5 0h1.5m.5 0h2.5m.5 0h7.5m.5 0h1.5m1 0h4.5m1 0h1.5m2 0h1m.5 0h1m10 0h1M79.5 365h1m8.5 0h1m1.5 0h2m.5 0h2m1 0h1.5m.5 0h3m.5 0h1.5m.5 0h6.5m.5 0h3.5m2 0h2m4 0h1m4.5 0h1m2 0h1M78 365.5h1m4.5 0h2m2.5 0h1m1.5 0h1m.5 0h1m1 0h4m.5 0h1.5m.5 0h12.5m.5 0h1m2.5 0h1m1 0h1m.5 0h2M84.5 366h1m3 0h1.5m.5 0h22.5m.5 0h4.5m1 0h1m12 0h1M89.5 366.5h5m2.5 0h17m.5 0h1.5m1 0h1m4.5 0h1m1 0h2m.5 0h1M85.5 367h1m1 0h1m2 0h1m.5 0h2m.5 0h3m.5 0h1m.5 0h1m1 0h11.5m.5 0h1.5m1.5 0h1m1.5 0h1m3.5 0h1m3 0h1M81.5 367.5h1.5m2.5 0h1m3.5 0h7m.5 0h2m1 0h13m.5 0h2m14.5 0h1M83 368h2.5m2 0h2m1.5 0h3.5m2.5 0h1m.5 0h9.5m1 0h5.5m1 0h1.5m1 0h3m.5 0h1m6.5 0h1M74 368.5h1m10 0h1m.5 0h1m2 0h2m.5 0h4m.5 0h18m9.5 0h1M84.5 369h2m.5 0h1m3 0h2m.5 0h1m.5 0h16m.5 0h4m.5 0h1m1.5 0h1.5m2.5 0h1M76.5 369.5h1m5.5 0h1.5m4 0h4.5m.5 0h24.5m2.5 0h1m7 0h1M81 370h1.5m4 0h4.5m.5 0h21m1.5 0h1.5m3.5 0h2M78.5 370.5h1m3 0h1m3.5 0h1.5m.5 0h21.5m1 0h3.5m6 0h2m1 0h1M68.5 371h1m16.5 0h1m2 0h1.5m.5 0h2.5m.5 0h2.5m.5 0h16m.5 0h2.5m6 0h1M68 371.5h1m10.5 0h1m2.5 0h1m1 0h2m1 0h9.5m.5 0h12.5m.5 0h1.5m1.5 0h1.5m1 0h1m.5 0h1m.5 0h1.5M84 372h2m.5 0h1m.5 0h26m.5 0h2m1 0h1M65.5 372.5h1m6.5 0h1m3.5 0h1m2.5 0h1.5m1 0h2.5m1 0h2m.5 0h25.5m2 0h1.5m.5 0h1m3 0h2m5.5 0h1M79.5 373h1.5m1.5 0h1m1 0h2m.5 0h3.5m1.5 0h16.5m.5 0h4m.5 0h1m1 0h1.5m1.5 0h1m10.5 0h1M76 373.5h1m.5 0h1m2 0h1m.5 0h1m1.5 0h1m1.5 0h5m.5 0h2.5m.5 0h20m1.5 0h1m1 0h3m5.5 0h1.5M87 374h1m1 0h2m.5 0h6m.5 0h19m.5 0h1m1 0h1m2.5 0h1m1 0h2M82 374.5h1m.5 0h3m.5 0h1m1 0h3m.5 0h15.5m.5 0h3.5m.5 0h4m2.5 0h2m1.5 0h1M80.5 375h1.5m.5 0h2.5m1.5 0h1.5m1 0h6m.5 0h17.5m1 0h2.5m.5 0h2.5m3 0h1m2 0h2m.5 0h1M87.5 375.5h1.5m.5 0h26.5M83.5 376h1m3 0h3m.5 0h20m1 0h3.5m.5 0h2m.5 0h2.5m1 0h1m1 0h1m7 0h1M77 376.5h1m5.5 0h1m2 0h1.5m1 0h1m.5 0h23m1 0h4m2 0h1m1 0h1M82 377h1m2 0h2.5m1 0h30.5m5.5 0h1M81.5 377.5h1m1 0h1m2 0h7.5m1 0h19.5m1.5 0h2m1.5 0h2m2.5 0h1m7 0h1M82.5 378h3.5m1 0h1m.5 0h8m.5 0h14m1 0h2.5m.5 0h1m1 0h1m1.5 0h2m10.5 0h1M80.5 378.5h3m1.5 0h1m3 0h24m2.5 0h2m4 0h2.5m1 0h1M67 379h1m16 0h1.5m.5 0h1.5m2 0h1.5m1 0h20.5m.5 0h2m.5 0h1m2 0h1.5m6.5 0h1M81 379.5h1m6 0h22.5m.5 0h1.5m.5 0h1m1.5 0h2m9.5 0h1m4.5 0h1M88.5 380h2.5m.5 0h1m1 0h22.5m1 0h1m.5 0h2m17.5 0h1M80 380.5h1m3.5 0h1m.5 0h1m1.5 0h6.5m.5 0h13.5m.5 0h3m2 0h1M62.5 381h1m14.5 0h1m1 0h1m3.5 0h2.5m1 0h7.5m.5 0h23.5m8.5 0h1m1.5 0h1M80 381.5h3m1 0h1.5m.5 0h2m1 0h26.5m5 0h1M73.5 382h1.5m7.5 0h1.5m4.5 0h2m.5 0h17m1 0h5m2.5 0h1m1.5 0h2m7 0h1M80 382.5h1m5 0h1m.5 0h3m1 0h22m1 0h2m1 0h2m1.5 0h1m10.5 0h1M62.5 383h1m14.5 0h1m8 0h1m.5 0h25.5m1.5 0h1m3.5 0h1m1 0h1m.5 0h1M78.5 383.5h1.5m1.5 0h1m1 0h1m1.5 0h1m1.5 0h1.5m.5 0h2m.5 0h19m1 0h1.5m6.5 0h1M80 384h1m2.5 0h1m.5 0h1m1.5 0h21.5m.5 0h4m.5 0h2.5m1.5 0h2M77.5 384.5h1m7.5 0h1m2 0h3m.5 0h17.5m.5 0h4m1 0h2.5m6.5 0h1m2 0h1M74.5 385h1m.5 0h1m3 0h1m.5 0h2m1 0h4.5m.5 0h1m1 0h16.5m.5 0h5m1 0h1.5m2.5 0h1M80.5 385.5h1m2 0h1m3.5 0h23.5m.5 0h3.5m1 0h1.5m1 0h1.5m2 0h1M76.5 386h1m1.5 0h1m3.5 0h1m1.5 0h1m.5 0h2.5m.5 0h2m1 0h20m2 0h1m5.5 0h1m1.5 0h1M82 386.5h2.5m.5 0h1m1 0h6m1 0h4m.5 0h7m.5 0h2.5m.5 0h4m1.5 0h1m1 0h1m.5 0h1m2 0h1m13 0h1M81 387h1m2.5 0h1m.5 0h1m1 0h1m.5 0h9.5m.5 0h2m2 0h2.5m.5 0h7.5m1.5 0h1m1.5 0h1m12 0h1M81 387.5h1m.5 0h1m1 0h1m3.5 0h3m1.5 0h15m.5 0h1.5m2.5 0h2.5M75 388h1m9 0h3m.5 0h1m1 0h1.5m.5 0h13.5m.5 0h4m.5 0h2m4.5 0h1m9.5 0h1m1 0h1M62.5 388.5h1m16 0h2m3 0h1m.5 0h1m.5 0h1.5m2.5 0h1m.5 0h3m1 0h4m.5 0h2.5m.5 0h1.5m1.5 0h1m.5 0h3m.5 0h2.5m1.5 0h1m6 0h1m.5 0h1M79.5 389h1m1.5 0h2.5m1 0h4.5m1 0h15m.5 0h4.5m2.5 0h1.5m.5 0h2m7.5 0h1M83 389.5h1m5 0h1m3.5 0h1.5m1.5 0h6.5m.5 0h4m.5 0h2.5m3.5 0h1m.5 0h1m2 0h1m4 0h1.5m3 0h1m2 0h1M74 390h1m13 0h5.5m.5 0h2.5m.5 0h2m.5 0h1m.5 0h2m.5 0h1m1 0h4.5m1 0h2m2.5 0h1m.5 0h2m1 0h1m4 0h1m3 0h1M77.5 390.5h1.5m1.5 0h2m1 0h2m4.5 0h3.5m.5 0h16m.5 0h1m2 0h1m10 0h1M77.5 391h1m2 0h1m1.5 0h1m2 0h1m2 0h1.5m.5 0h1.5m.5 0h12.5m.5 0h3.5m.5 0h1.5m.5 0h1m1 0h2.5M81 391.5h1m1 0h3m2 0h1m.5 0h2m.5 0h1m.5 0h2.5m.5 0h3.5m1 0h1.5m2 0h3m.5 0h6m8.5 0h1m.5 0h1m2.5 0h1M90.5 392h1m.5 0h3.5m2 0h4.5m.5 0h3m.5 0h4m.5 0h2m1.5 0h1m6 0h1M76 392.5h1m9 0h2m.5 0h1m1.5 0h2m1.5 0h1.5m.5 0h2m.5 0h7m.5 0h1m1.5 0h1m.5 0h1m3.5 0h1m2 0h1m7 0h1m4.5 0h1M70 393h1m8.5 0h1m2 0h1m2 0h1.5m6 0h3.5m.5 0h1.5m2 0h4m.5 0h3m4 0h1m2.5 0h1m7.5 0h1M87 393.5h1m3.5 0h1m.5 0h1m.5 0h2.5m1 0h6m.5 0h2.5m.5 0h1m2.5 0h1m3 0h1m2.5 0h1m8 0h1M81.5 394h1m2 0h1m3 0h1.5m2 0h5m.5 0h4.5m1 0h3m.5 0h3m1 0h1m5 0h1m8 0h1M77 394.5h1m4.5 0h1m2.5 0h1m.5 0h2.5m.5 0h1.5m1 0h2.5m.5 0h2m.5 0h2m2 0h1.5m.5 0h1m.5 0h1.5m2.5 0h2.5m1.5 0h1m1.5 0h1m1.5 0h1m.5 0h1M75.5 395h1m9 0h1m1 0h5.5m.5 0h2m.5 0h1.5m1 0h1m1 0h1.5m.5 0h1m.5 0h2.5m.5 0h2m2.5 0h4M82 395.5h1m3 0h1m1.5 0h1m1 0h5.5m3.5 0h1m.5 0h4m.5 0h2.5m1.5 0h1.5M77.5 396h1m5.5 0h1m.5 0h1m4 0h1m.5 0h1m3 0h5.5m.5 0h1m.5 0h2m3 0h2m.5 0h1m.5 0h3m2.5 0h1M82.5 396.5h1m5.5 0h1m1.5 0h1m.5 0h1m.5 0h1.5m3 0h1m.5 0h1.5m.5 0h4m2 0h2m1.5 0h1.5m.5 0h1.5M86 397h1m6.5 0h3m1 0h3m1 0h2.5m10 0h1M87.5 397.5h1.5m2.5 0h1m5 0h3.5m.5 0h2m1.5 0h1m1 0h1m1.5 0h1m2.5 0h1m6.5 0h1M76.5 398h1m.5 0h1m2.5 0h1m1 0h1m1.5 0h1m.5 0h1.5m2 0h2.5m2 0h1m.5 0h1.5m.5 0h1m2 0h2m.5 0h1m1.5 0h2.5m2.5 0h1M81.5 398.5h1m7.5 0h2.5m1 0h2m1 0h3m1 0h1m2 0h1m1 0h1m1 0h1m1.5 0h1m1.5 0h1m8.5 0h1m11.5 0h1M79 399h1m2.5 0h1m2.5 0h1m2 0h1.5m1.5 0h1.5m1.5 0h3m1 0h1m1.5 0h2.5m.5 0h1m2 0h1m1 0h1m2.5 0h1M86 399.5h1m.5 0h1m4 0h1m1.5 0h1m.5 0h2.5m1 0h1m1.5 0h1m.5 0h1m3 0h1.5m17.5 0h1M81.5 400h1m2 0h2m1.5 0h2m3 0h1m4 0h1.5m.5 0h4m.5 0h1m2.5 0h1m2 0h2.5m.5 0h1M83.5 400.5h1m5.5 0h1m1.5 0h4m2 0h2.5m2.5 0h1.5m1.5 0h1m13 0h1M85.5 401h1m4 0h2m1 0h1m1 0h1m5.5 0h1m5 0h1m.5 0h2m3 0h1M72.5 401.5h1m3.5 0h1m6 0h1m4 0h1m1.5 0h2m1.5 0h3.5m4 0h2m1.5 0h2m11 0h1m1 0h1M95 402h1m4.5 0h1.5m3.5 0h2m2 0h1m1.5 0h1m1 0h1M80.5 402.5h1m2.5 0h1m12.5 0h2m6.5 0h1m1 0h1m3 0h1M81.5 403h1m1 0h1m9.5 0h1.5m1.5 0h2m1 0h1m3 0h2.5m3 0h1.5m.5 0h1M81 403.5h1m8 0h1m1.5 0h2m1 0h1m1.5 0h1.5m.5 0h1.5m1 0h1m4 0h1m1 0h1m2 0h1m7.5 0h1M90 404h1m3.5 0h1.5m3.5 0h1m1.5 0h1m1 0h1m4.5 0h1M98 404.5h1m6.5 0h1m6 0h1m2.5 0h1M79.5 405h1m7 0h1m6 0h2m1 0h1m1 0h1m1 0h1m1.5 0h1m22.5 0h1M78 405.5h1m2 0h1m4.5 0h1.5m1 0h1m4 0h1m1 0h1m1 0h1m.5 0h1m5.5 0h2m2.5 0h1M94 406h1m5.5 0h2.5m1 0h2m11.5 0h1M85.5 406.5h1m4 0h1m5.5 0h1m9.5 0h1M76.5 407h1m10 0h1m7 0h1m.5 0h1m1.5 0h1m6 0h1M88 407.5h1m8.5 0h1m6.5 0h1m2.5 0h1m2.5 0h1M84 408h1m6.5 0h1m14 0h1m16 0h1M87.5 408.5h1m7.5 0h2m11 0h1M84.5 409h1m4.5 0h1m5 0h1m2.5 0h1m8.5 0h1m1.5 0h1M74 409.5h1m12.5 0h1m3.5 0h1m6.5 0h1.5m1 0h1m5.5 0h1M82 410h1m16.5 0h1m17.5 0h1M91.5 410.5h1m2 0h1m7 0h1M76 411h1m1 0h1m3.5 0h7.5m.5 0h3m.5 0h5.5m1 0h4.5m1.5 0h1.5m1 0h1m.5 0h1m1.5 0h1m3 0h1m7.5 0h1m2 0h1m.5 0h1" stroke="#000" stroke-width=".9" fill="none"/>
<text x="69" y="258.8" font-size="10.6">8%</text>
<text x="201" y="257.3" font-size="10.6">0.1%</text>
<text x="67.8" y="405.6" font-size="10.6">92%</text>
<text x="191" y="392.7" font-size="10.6">0.9%</text>
<text x="191" y="404.8" font-size="10.6">(492)</text>
<text x="271.3" y="238.1" font-size="25" class="s" font-weight="bold">D</text>
<rect x="325.3" y="247" width="162.8" height="163" fill="none" stroke="#222" stroke-width="1"/>
<line x1="386.5" y1="247" x2="386.5" y2="410" stroke="#222" stroke-width="1"/>
<line x1="325.3" y1="356.5" x2="488.1" y2="356.5" stroke="#222" stroke-width="1"/>
<line x1="322.90000000000003" y1="410.0" x2="325.3" y2="410.0" stroke="#333" stroke-width="0.45"/>
<line x1="325.3" y1="410" x2="325.3" y2="412.4" stroke="#333" stroke-width="0.45"/>
<line x1="324.0" y1="397.7" x2="325.3" y2="397.7" stroke="#333" stroke-width="0.45"/>
<line x1="337.6" y1="410" x2="337.6" y2="411.3" stroke="#333" stroke-width="0.45"/>
<line x1="324.0" y1="390.6" x2="325.3" y2="390.6" stroke="#333" stroke-width="0.45"/>
<line x1="344.7" y1="410" x2="344.7" y2="411.3" stroke="#333" stroke-width="0.45"/>
<line x1="324.0" y1="385.5" x2="325.3" y2="385.5" stroke="#333" stroke-width="0.45"/>
<line x1="349.8" y1="410" x2="349.8" y2="411.3" stroke="#333" stroke-width="0.45"/>
<line x1="324.0" y1="381.5" x2="325.3" y2="381.5" stroke="#333" stroke-width="0.45"/>
<line x1="353.7" y1="410" x2="353.7" y2="411.3" stroke="#333" stroke-width="0.45"/>
<line x1="324.0" y1="378.3" x2="325.3" y2="378.3" stroke="#333" stroke-width="0.45"/>
<line x1="357.0" y1="410" x2="357.0" y2="411.3" stroke="#333" stroke-width="0.45"/>
<line x1="324.0" y1="375.6" x2="325.3" y2="375.6" stroke="#333" stroke-width="0.45"/>
<line x1="359.7" y1="410" x2="359.7" y2="411.3" stroke="#333" stroke-width="0.45"/>
<line x1="324.0" y1="373.2" x2="325.3" y2="373.2" stroke="#333" stroke-width="0.45"/>
<line x1="362.1" y1="410" x2="362.1" y2="411.3" stroke="#333" stroke-width="0.45"/>
<line x1="324.0" y1="371.1" x2="325.3" y2="371.1" stroke="#333" stroke-width="0.45"/>
<line x1="364.1" y1="410" x2="364.1" y2="411.3" stroke="#333" stroke-width="0.45"/>
<line x1="322.90000000000003" y1="369.2" x2="325.3" y2="369.2" stroke="#333" stroke-width="0.45"/>
<line x1="366.0" y1="410" x2="366.0" y2="412.4" stroke="#333" stroke-width="0.45"/>
<line x1="324.0" y1="357.0" x2="325.3" y2="357.0" stroke="#333" stroke-width="0.45"/>
<line x1="378.3" y1="410" x2="378.3" y2="411.3" stroke="#333" stroke-width="0.45"/>
<line x1="324.0" y1="349.8" x2="325.3" y2="349.8" stroke="#333" stroke-width="0.45"/>
<line x1="385.4" y1="410" x2="385.4" y2="411.3" stroke="#333" stroke-width="0.45"/>
<line x1="324.0" y1="344.7" x2="325.3" y2="344.7" stroke="#333" stroke-width="0.45"/>
<line x1="390.5" y1="410" x2="390.5" y2="411.3" stroke="#333" stroke-width="0.45"/>
<line x1="324.0" y1="340.8" x2="325.3" y2="340.8" stroke="#333" stroke-width="0.45"/>
<line x1="394.4" y1="410" x2="394.4" y2="411.3" stroke="#333" stroke-width="0.45"/>
<line x1="324.0" y1="337.5" x2="325.3" y2="337.5" stroke="#333" stroke-width="0.45"/>
<line x1="397.7" y1="410" x2="397.7" y2="411.3" stroke="#333" stroke-width="0.45"/>
<line x1="324.0" y1="334.8" x2="325.3" y2="334.8" stroke="#333" stroke-width="0.45"/>
<line x1="400.4" y1="410" x2="400.4" y2="411.3" stroke="#333" stroke-width="0.45"/>
<line x1="324.0" y1="332.4" x2="325.3" y2="332.4" stroke="#333" stroke-width="0.45"/>
<line x1="402.8" y1="410" x2="402.8" y2="411.3" stroke="#333" stroke-width="0.45"/>
<line x1="324.0" y1="330.4" x2="325.3" y2="330.4" stroke="#333" stroke-width="0.45"/>
<line x1="404.8" y1="410" x2="404.8" y2="411.3" stroke="#333" stroke-width="0.45"/>
<line x1="322.90000000000003" y1="328.5" x2="325.3" y2="328.5" stroke="#333" stroke-width="0.45"/>
<line x1="406.7" y1="410" x2="406.7" y2="412.4" stroke="#333" stroke-width="0.45"/>
<line x1="324.0" y1="316.2" x2="325.3" y2="316.2" stroke="#333" stroke-width="0.45"/>
<line x1="419.0" y1="410" x2="419.0" y2="411.3" stroke="#333" stroke-width="0.45"/>
<line x1="324.0" y1="309.1" x2="325.3" y2="309.1" stroke="#333" stroke-width="0.45"/>
<line x1="426.1" y1="410" x2="426.1" y2="411.3" stroke="#333" stroke-width="0.45"/>
<line x1="324.0" y1="304.0" x2="325.3" y2="304.0" stroke="#333" stroke-width="0.45"/>
<line x1="431.2" y1="410" x2="431.2" y2="411.3" stroke="#333" stroke-width="0.45"/>
<line x1="324.0" y1="300.0" x2="325.3" y2="300.0" stroke="#333" stroke-width="0.45"/>
<line x1="435.1" y1="410" x2="435.1" y2="411.3" stroke="#333" stroke-width="0.45"/>
<line x1="324.0" y1="296.8" x2="325.3" y2="296.8" stroke="#333" stroke-width="0.45"/>
<line x1="438.4" y1="410" x2="438.4" y2="411.3" stroke="#333" stroke-width="0.45"/>
<line x1="324.0" y1="294.1" x2="325.3" y2="294.1" stroke="#333" stroke-width="0.45"/>
<line x1="441.1" y1="410" x2="441.1" y2="411.3" stroke="#333" stroke-width="0.45"/>
<line x1="324.0" y1="291.7" x2="325.3" y2="291.7" stroke="#333" stroke-width="0.45"/>
<line x1="443.5" y1="410" x2="443.5" y2="411.3" stroke="#333" stroke-width="0.45"/>
<line x1="324.0" y1="289.6" x2="325.3" y2="289.6" stroke="#333" stroke-width="0.45"/>
<line x1="445.5" y1="410" x2="445.5" y2="411.3" stroke="#333" stroke-width="0.45"/>
<line x1="322.90000000000003" y1="287.8" x2="325.3" y2="287.8" stroke="#333" stroke-width="0.45"/>
<line x1="447.4" y1="410" x2="447.4" y2="412.4" stroke="#333" stroke-width="0.45"/>
<line x1="324.0" y1="275.5" x2="325.3" y2="275.5" stroke="#333" stroke-width="0.45"/>
<line x1="459.7" y1="410" x2="459.7" y2="411.3" stroke="#333" stroke-width="0.45"/>
<line x1="324.0" y1="268.3" x2="325.3" y2="268.3" stroke="#333" stroke-width="0.45"/>
<line x1="466.8" y1="410" x2="466.8" y2="411.3" stroke="#333" stroke-width="0.45"/>
<line x1="324.0" y1="263.2" x2="325.3" y2="263.2" stroke="#333" stroke-width="0.45"/>
<line x1="471.9" y1="410" x2="471.9" y2="411.3" stroke="#333" stroke-width="0.45"/>
<line x1="324.0" y1="259.3" x2="325.3" y2="259.3" stroke="#333" stroke-width="0.45"/>
<line x1="475.8" y1="410" x2="475.8" y2="411.3" stroke="#333" stroke-width="0.45"/>
<line x1="324.0" y1="256.0" x2="325.3" y2="256.0" stroke="#333" stroke-width="0.45"/>
<line x1="479.1" y1="410" x2="479.1" y2="411.3" stroke="#333" stroke-width="0.45"/>
<line x1="324.0" y1="253.3" x2="325.3" y2="253.3" stroke="#333" stroke-width="0.45"/>
<line x1="481.8" y1="410" x2="481.8" y2="411.3" stroke="#333" stroke-width="0.45"/>
<line x1="324.0" y1="250.9" x2="325.3" y2="250.9" stroke="#333" stroke-width="0.45"/>
<line x1="484.2" y1="410" x2="484.2" y2="411.3" stroke="#333" stroke-width="0.45"/>
<line x1="324.0" y1="248.9" x2="325.3" y2="248.9" stroke="#333" stroke-width="0.45"/>
<line x1="486.2" y1="410" x2="486.2" y2="411.3" stroke="#333" stroke-width="0.45"/>
<line x1="322.90000000000003" y1="247" x2="325.3" y2="247" stroke="#333" stroke-width="0.45"/>
<line x1="488.1" y1="410" x2="488.1" y2="412.4" stroke="#333" stroke-width="0.45"/>
<text x="362.3" y="240.3" font-size="12">5µg/mL</text>
<text x="405.5" y="240.3" font-size="11.5">HABP</text>
<text x="306.6" y="415.5" font-size="9.8">10<tspan font-size="5" dx="0.3" dy="-5.4">0</tspan></text>
<text x="306.6" y="374.0" font-size="9.8">10<tspan font-size="5" dx="0.3" dy="-5.4">1</tspan></text>
<text x="306.6" y="332.7" font-size="9.8">10<tspan font-size="5" dx="0.3" dy="-5.4">2</tspan></text>
<text x="306.6" y="292.5" font-size="9.8">10<tspan font-size="5" dx="0.3" dy="-5.4">3</tspan></text>
<text x="306.6" y="251.2" font-size="9.8">10<tspan font-size="5" dx="0.3" dy="-5.4">4</tspan></text>
<text x="315.4" y="424.0" font-size="9.8">10<tspan font-size="5" dx="0.3" dy="-5.4">0</tspan></text>
<text x="358.4" y="424.0" font-size="9.8">10<tspan font-size="5" dx="0.3" dy="-5.4">1</tspan></text>
<text x="398.8" y="424.0" font-size="9.8">10<tspan font-size="5" dx="0.3" dy="-5.4">2</tspan></text>
<text x="441.9" y="424.0" font-size="9.8">10<tspan font-size="5" dx="0.3" dy="-5.4">3</tspan></text>
<text x="481.9" y="424.0" font-size="9.8">10<tspan font-size="5" dx="0.3" dy="-5.4">4</tspan></text>
<text x="406.2" y="438.2" font-size="14" text-anchor="middle">CD34-FITC</text>
<text transform="translate(300.3 329.1) rotate(-90)" font-size="14" text-anchor="middle">CD38-PE</text>
<path d="M376 310h1M364 310.5h1M375 312h1M369.5 313h1m.5 0h1m3.5 0h1M383.5 315h1M364.5 317h1M368 317.5h1m24 0h1M361.5 318h1m4 0h1M368.5 318.5h1m2 0h1M372 319.5h1M379 320h1M364 320.5h1m8 0h1M365 321.5h1M362 322h1M367.5 322.5h1m19 0h1M353 323h1m12.5 0h2m3.5 0h1M357 323.5h1m6 0h1m7.5 0h1M372 324h1M363 324.5h1m10.5 0h1.5m2.5 0h1m3 0h1m3.5 0h1M378.5 325h1M382 325.5h1M364 326h1m2.5 0h1m4 0h1m2 0h1m.5 0h1M369.5 326.5h1m7.5 0h1m9.5 0h1M348 327h1m12 0h1m2 0h1m1.5 0h1.5m3 0h2M358.5 327.5h1m3.5 0h1m8 0h1M366 328h1m3.5 0h1M367.5 328.5h1m1 0h1m3 0h1m1 0h1m6 0h1M364 329h1m2 0h1m.5 0h1.5M353.5 329.5h1m5 0h1m1.5 0h1m3 0h1.5m8 0h1M361 330h1m3 0h1m1 0h1m1 0h1m2.5 0h1m3.5 0h1.5M350.5 330.5h1m8.5 0h1m6.5 0h1m2.5 0h2m1.5 0h1m2.5 0h1m1 0h1m6 0h1M355.5 331h1m4 0h1m1.5 0h1m.5 0h1m2 0h1m7.5 0h1m.5 0h1m2 0h1M365.5 331.5h1m5.5 0h1m11.5 0h1M358 332h2m13.5 0h1m1.5 0h1m4 0h1M363 332.5h2m1.5 0h1m3 0h1m2.5 0h1m7 0h1M361 333h1m3.5 0h2m4.5 0h1m.5 0h1m1 0h1m7.5 0h1m9 0h1M356.5 333.5h1m7 0h1m7.5 0h1m7 0h1M372 334h2m6 0h1M357 334.5h1.5m8.5 0h2.5m4 0h1m2.5 0h2m4.5 0h1.5M361 335h1m.5 0h1m2.5 0h1m2 0h1m2 0h1.5m19 0h1M358.5 335.5h1m10 0h1m1 0h2m.5 0h1m1.5 0h3m1 0h1M355 336h1m4.5 0h1m.5 0h1.5m3.5 0h1.5m3 0h1m2 0h1m.5 0h1m.5 0h1m3 0h1M358.5 336.5h1m5 0h1.5m7 0h1m1.5 0h1M366.5 337h1.5m.5 0h2m7.5 0h1M358 337.5h1m4 0h1m2 0h1.5m5.5 0h1.5m4 0h1m13.5 0h1M357.5 338h1m6.5 0h1m.5 0h1m1 0h1.5m1 0h1m.5 0h1.5m2 0h1m1.5 0h1M339.5 338.5h1m24.5 0h1m2 0h1m1.5 0h2.5m3.5 0h1m3 0h1m2.5 0h1M359 339h1m2.5 0h1m3 0h1m3 0h1m9 0h2M357.5 339.5h1m5.5 0h1m1 0h1m.5 0h1m6.5 0h2m1 0h1m2 0h1M354.5 340h1m2 0h1m.5 0h1.5m6.5 0h1m6.5 0h1m1.5 0h1m5.5 0h1m7 0h1M352.5 340.5h1m9 0h1m.5 0h1m.5 0h1m1.5 0h2m.5 0h1m15 0h1M355 341h1m1 0h1m3 0h1m1 0h1m1.5 0h1m2 0h1m.5 0h4m4 0h1M361 341.5h1m6.5 0h1m1.5 0h1m.5 0h1.5m.5 0h1m.5 0h1m1 0h1m1 0h1m2.5 0h1M362.5 342h1.5m1.5 0h1m2.5 0h1m3 0h1m3.5 0h1m.5 0h1m.5 0h1m3 0h1m1 0h1M359.5 342.5h1m6.5 0h1m4.5 0h1.5m4 0h3m5 0h1.5m2.5 0h1M354 343h2m4.5 0h1m1 0h1m1.5 0h2m.5 0h1.5m4 0h1.5m2.5 0h1m2.5 0h1m.5 0h1.5m15.5 0h1m4 0h1M353 343.5h1m6.5 0h1m.5 0h1m5 0h1.5m.5 0h3m2 0h4m2 0h1M361.5 344h1m5 0h1m1 0h1m2 0h1m3 0h1m1.5 0h1m2.5 0h1m2 0h1M364.5 344.5h1m.5 0h1m6 0h1m1 0h3.5m3 0h1.5m2.5 0h1m4 0h1m20 0h1M350 345h1m15.5 0h2m2.5 0h3.5m.5 0h2.5m1.5 0h1m1 0h2m7.5 0h1m3 0h1m.5 0h1M354 345.5h1m5 0h1m1 0h1m1 0h1m3.5 0h2m5 0h1m3 0h1m1.5 0h1m4 0h1M357 346h1m5 0h1m4.5 0h1m.5 0h1.5m.5 0h2m3 0h1m4 0h1m9 0h1M356.5 346.5h1m1.5 0h1m.5 0h2m.5 0h1m1 0h2m1.5 0h2.5m2.5 0h1m.5 0h1m1 0h1.5m.5 0h1m2.5 0h1m18 0h1M362 347h1m2.5 0h3m.5 0h1m.5 0h1m1.5 0h1m1 0h1m.5 0h1m23.5 0h1M359 347.5h1m2.5 0h1m.5 0h1.5m1.5 0h1m.5 0h1m1 0h1m2 0h2m1.5 0h1m.5 0h1m.5 0h1m1 0h2m13 0h1M351.5 348h2m14.5 0h3m2.5 0h1m1.5 0h1m.5 0h2m.5 0h1m1 0h1m8 0h1m.5 0h1m6 0h1M348.5 348.5h1m10 0h1m2.5 0h1m.5 0h1m1 0h1m.5 0h1m1 0h2m1 0h2m2 0h1.5m.5 0h1m5.5 0h1m11.5 0h1M359 349h1m3 0h1m2 0h1m1.5 0h2.5m2 0h1m.5 0h1m1.5 0h1m2.5 0h1m.5 0h1M339 349.5h1m24.5 0h1m2.5 0h1m1.5 0h1.5m4.5 0h1m3.5 0h1M364 350h2m.5 0h2m2 0h1m11.5 0h3m.5 0h1.5M359 350.5h1m.5 0h2m3 0h2.5m1 0h1m6 0h1m2 0h2.5m11 0h1m1 0h1M354 351h1m9.5 0h1m3 0h1m1 0h1m2 0h2.5m1 0h3m1.5 0h1.5m17.5 0h1M361 351.5h1m3.5 0h2.5m2 0h1m2.5 0h3m1.5 0h1.5m1 0h1m2 0h1m1.5 0h1m2.5 0h1m1.5 0h1m1 0h1M363.5 352h1m1 0h1m.5 0h1m.5 0h1.5m.5 0h1.5m2 0h5.5m2.5 0h1m19 0h1m.5 0h1M357 352.5h1m2 0h2m2 0h1.5m3.5 0h1m.5 0h4m.5 0h2.5m.5 0h3m1 0h3.5M354 353h1.5m2.5 0h1m2 0h1m2 0h7.5m.5 0h7.5m2 0h1m6.5 0h1m6 0h1m.5 0h1m2 0h1M350.5 353.5h2m3 0h1.5m6.5 0h1m.5 0h1.5m3.5 0h3.5m2 0h1m.5 0h4m1.5 0h1m2 0h1m4 0h1m1.5 0h1M360 354h1m1.5 0h1m1 0h4.5m1.5 0h1.5m.5 0h1m2.5 0h2.5m2 0h2m4.5 0h1m3 0h1m18.5 0h1M347.5 354.5h1m4.5 0h1m3.5 0h1m2 0h1.5m1 0h1m.5 0h1m1 0h1m.5 0h8m.5 0h1m.5 0h1m1 0h1m.5 0h1m3.5 0h1m1 0h1.5m2.5 0h1M355 355h1m6 0h1m1 0h1.5m1.5 0h1.5m1 0h2m.5 0h2.5m1 0h1m.5 0h2.5m.5 0h1m1 0h3m5 0h3M345 355.5h1m2.5 0h1m12.5 0h2m.5 0h5m.5 0h1m.5 0h3.5m1.5 0h3m.5 0h2m1 0h1m.5 0h1.5m.5 0h1m4.5 0h1.5m1 0h1M357.5 356h2m.5 0h1m4 0h1m2 0h1.5m.5 0h1.5m.5 0h5m1.5 0h1m2.5 0h1m1.5 0h4m3 0h1m.5 0h1m.5 0h1M360.5 356.5h3m2 0h3.5m.5 0h2m1.5 0h2m1 0h3m.5 0h3m1 0h2m.5 0h1m9.5 0h1M357 357h1m1 0h1m.5 0h1m2.5 0h3.5m1 0h1m1 0h5m1 0h3m.5 0h2m3.5 0h1m4 0h1M327.5 357.5h1m26 0h1m2 0h1m3 0h1m1.5 0h3m.5 0h1m.5 0h10.5m.5 0h1m3 0h2m1 0h1m10.5 0h1M356 358h1m4 0h1m.5 0h3.5m.5 0h11.5m.5 0h1m.5 0h3m5 0h1.5m4.5 0h1m.5 0h1m.5 0h1.5m1 0h1m8.5 0h1M345 358.5h1m1.5 0h1m2.5 0h1m1 0h1m3 0h3m.5 0h12.5m1 0h3.5m.5 0h1.5m.5 0h2.5m2 0h1m1 0h1m2 0h1m2.5 0h1m1 0h1.5m7.5 0h1M344.5 359h1m8 0h1m1.5 0h1m2.5 0h4.5m.5 0h10m.5 0h1m.5 0h1m2.5 0h3m2.5 0h2m1.5 0h1m5 0h1m3 0h1M355.5 359.5h1m1 0h1.5m3 0h1m1 0h3m1 0h7.5m1 0h1.5m.5 0h6.5m1.5 0h1m1.5 0h1m3 0h2m2 0h1m.5 0h1M351.5 360h1m4 0h1m1 0h1m1 0h1m1 0h1m2 0h13.5m.5 0h1.5m.5 0h1m.5 0h3m3 0h1m6.5 0h1m1 0h1m2 0h1m.5 0h1M358 360.5h1.5m1.5 0h1m1 0h1.5m.5 0h2.5m.5 0h3m.5 0h2m.5 0h1m.5 0h1.5m1.5 0h3.5m1 0h4.5m2 0h1m.5 0h1m1.5 0h1m2 0h1m6 0h1M352.5 361h1m1 0h2m3.5 0h3m.5 0h7m.5 0h8m1 0h1.5m.5 0h1m.5 0h1m1 0h1m2.5 0h2m3 0h1m.5 0h2m3.5 0h1.5M356 361.5h3.5m1 0h2m.5 0h2.5m.5 0h12m.5 0h4.5m.5 0h1m1.5 0h2.5m.5 0h1m1 0h1m5.5 0h1m2.5 0h1M349 362h1m3 0h2m1 0h3m1 0h16.5m.5 0h1.5m1 0h2.5m2 0h3m2 0h1m3 0h1m.5 0h1.5m7 0h1M348 362.5h1m6 0h1m1.5 0h1m1 0h7m.5 0h12.5m.5 0h3m3.5 0h2m1.5 0h1m.5 0h1m1 0h2.5m6 0h1M354.5 363h1.5m3.5 0h2m.5 0h3m.5 0h2m.5 0h13.5m.5 0h1m.5 0h4m1 0h1m1 0h1m.5 0h1m3 0h1m.5 0h1m1 0h1.5m.5 0h1m2.5 0h1M355.5 363.5h1.5m1.5 0h3.5m2.5 0h13m.5 0h2m1 0h3m2.5 0h1m.5 0h4.5m.5 0h1m.5 0h1.5m.5 0h1m3.5 0h1m.5 0h1.5M353.5 364h2m1.5 0h2.5m.5 0h4m.5 0h2.5m.5 0h13m.5 0h3.5m.5 0h1.5m.5 0h2m1 0h1m.5 0h1m1 0h1.5m3 0h1.5m5 0h1m1.5 0h1M352.5 364.5h2m2 0h1.5m1 0h1m.5 0h1m.5 0h1m.5 0h13m1 0h3.5m.5 0h2.5m1.5 0h2.5m1 0h1m7.5 0h1.5M348.5 365h1m3.5 0h1m2.5 0h1m.5 0h6.5m.5 0h1.5m.5 0h8.5m.5 0h3m.5 0h1m1 0h1.5m1 0h3m9 0h2m5.5 0h1M352 365.5h1.5m.5 0h1m2 0h1m.5 0h1m1 0h1m.5 0h17.5m.5 0h1m1.5 0h3.5m2 0h1m.5 0h1.5m4.5 0h1.5m1.5 0h1m1.5 0h1.5M351.5 366h1m1.5 0h2m1.5 0h1m2 0h21m2.5 0h1m1 0h1m1.5 0h1m7 0h1m.5 0h1m3 0h1M350.5 366.5h1m.5 0h1m1.5 0h1m1.5 0h4m1 0h18.5m.5 0h1m.5 0h2.5m2 0h1m.5 0h1m1 0h1m2 0h1m1 0h1m.5 0h1m3.5 0h2m.5 0h1M345.5 367h1m4.5 0h1m2.5 0h2m2 0h2m.5 0h6m.5 0h15m1 0h1m1 0h1.5m1.5 0h1m2 0h3m1.5 0h1.5m2.5 0h1m1.5 0h1m8 0h1M347 367.5h1m2 0h1m4 0h3.5m.5 0h23.5m2.5 0h3.5m1 0h1.5m1 0h2.5m.5 0h1.5m1.5 0h1m6 0h1M344 368h1m2.5 0h1m1 0h1m1.5 0h2m.5 0h2m.5 0h2m1.5 0h1m.5 0h17m1.5 0h2m.5 0h5m6.5 0h1m4 0h2m1 0h1M348 368.5h1m1 0h1m3 0h1m.5 0h1m2 0h1m.5 0h20.5m1 0h1m1.5 0h6.5m3.5 0h2.5m.5 0h1.5m4 0h1M344 369h1m1 0h1m5 0h1.5m4.5 0h23.5m.5 0h1m.5 0h1.5m.5 0h1.5m1 0h1m.5 0h3m1.5 0h1m1.5 0h3.5m2 0h1m1.5 0h1M349.5 369.5h1m2 0h1m.5 0h5.5m.5 0h20m.5 0h2.5m1 0h1m1 0h2m.5 0h1.5m.5 0h1m.5 0h2m2 0h1m.5 0h1m2 0h1.5M348.5 370h1m1.5 0h1m.5 0h1.5m.5 0h1m1 0h23.5m.5 0h5.5m.5 0h1m1 0h1m.5 0h1m3 0h1m1 0h2m1.5 0h2.5M343 370.5h1m6 0h1m3 0h2m1.5 0h1m1 0h2m1.5 0h18m1 0h2m.5 0h1m1 0h2m3 0h1m1 0h1.5m1.5 0h1m2 0h1m3.5 0h2.5M351 371h1m1 0h1.5m.5 0h2.5m.5 0h22.5m1 0h3m1.5 0h1.5m.5 0h1m1 0h1m1 0h2.5m1 0h1m1 0h1m1 0h1m2.5 0h1M350.5 371.5h1m4.5 0h1m1 0h27.5m1 0h1m2 0h1m1.5 0h2.5m.5 0h1m1.5 0h1.5m3 0h1.5M352 372h1m1 0h1m1.5 0h1m.5 0h4m.5 0h18.5m.5 0h3.5m3 0h1m1 0h2m.5 0h2.5m1 0h2M352.5 372.5h1m.5 0h1m.5 0h1m1 0h24.5m.5 0h2m3.5 0h3.5m6 0h1m.5 0h1m1 0h1m5 0h1M347.5 373h1m2 0h3m1.5 0h3.5m1.5 0h17m1 0h3.5m1.5 0h5m.5 0h3m1 0h2m1 0h1m.5 0h1m.5 0h1m2 0h1M347.5 373.5h1m1.5 0h2.5m1 0h3.5m.5 0h28.5m1 0h2m4.5 0h1m.5 0h1m.5 0h2M349 374h1m7 0h24m.5 0h1.5m1.5 0h3.5m4 0h1.5m.5 0h3.5m6 0h1m.5 0h1m4.5 0h1M351.5 374.5h1.5m.5 0h1m.5 0h22.5m.5 0h3.5m2 0h3m2 0h5.5m.5 0h1m.5 0h2m2 0h2.5m4.5 0h2M349 375h1m5.5 0h3m.5 0h2.5m.5 0h19.5m.5 0h2m1 0h2m2.5 0h1m1 0h3m2 0h1m1.5 0h1m1 0h1m4 0h1M327.5 375.5h1m14 0h1m10 0h1m.5 0h28.5m5.5 0h3.5m2 0h1m4 0h2M333.5 376h2m11.5 0h4m.5 0h1m1.5 0h2m1 0h3m1.5 0h19.5m3.5 0h1m1 0h1m.5 0h1m2 0h1m5.5 0h2.5m1.5 0h2M348.5 376.5h1m3 0h2m1 0h2m.5 0h3.5m1.5 0h11m.5 0h1m.5 0h7m.5 0h2.5m1 0h1.5m4 0h1.5M335 377h1m10 0h2.5m5 0h1m3.5 0h6.5m.5 0h14.5m1 0h1m.5 0h3m3.5 0h2.5m3.5 0h1.5m.5 0h2m2.5 0h1.5M347.5 377.5h1m1.5 0h1m3.5 0h1m2 0h11.5m.5 0h5.5m.5 0h4.5m1 0h3m.5 0h1m.5 0h1m.5 0h1m2 0h1m.5 0h1m.5 0h2m2.5 0h1m.5 0h1m3 0h1m.5 0h1M351.5 378h1m1.5 0h3m.5 0h1.5m.5 0h18m1 0h4m1 0h2.5m1 0h4.5m.5 0h1.5m2 0h1.5m2 0h1m.5 0h1.5m2.5 0h1M348.5 378.5h2m1 0h1m2 0h1.5m1 0h21m1 0h3.5m1 0h1.5m1.5 0h1m.5 0h1m7.5 0h1m2 0h1m.5 0h1M334 379h1m5.5 0h1m9.5 0h3m1 0h1.5m1.5 0h2.5m.5 0h3.5m.5 0h10m.5 0h2.5m.5 0h1m.5 0h2.5m1 0h2m.5 0h1.5m1.5 0h1m2 0h2m2 0h1m1 0h1m2.5 0h1m6 0h1M351 379.5h1m3 0h1m1 0h1m1 0h1.5m.5 0h3.5m.5 0h17.5m1.5 0h1.5m.5 0h1m.5 0h1m2 0h1m8 0h3M343.5 380h1m1 0h1m7.5 0h1m1.5 0h19m.5 0h8.5m3 0h1.5m1 0h1.5m.5 0h1.5m4.5 0h1m3 0h1m3 0h1M337.5 380.5h1m5 0h1m4.5 0h1m1.5 0h3m1.5 0h1.5m1.5 0h2m.5 0h11.5m.5 0h1m.5 0h5.5m1.5 0h1m.5 0h1m2.5 0h3m1.5 0h1M349 381h1m2 0h4.5m2 0h1m1.5 0h4m.5 0h2.5m.5 0h11m.5 0h3m1.5 0h1m1 0h1m1 0h1.5m1 0h2m3 0h2M348 381.5h1m1 0h1m2.5 0h1m.5 0h1m.5 0h2m1 0h1m1 0h5m.5 0h14m3.5 0h2.5m5.5 0h2m1.5 0h1.5m.5 0h1M334.5 382h1m7 0h1m4 0h1m5 0h25.5m.5 0h5m.5 0h1m4 0h2m1.5 0h1m3.5 0h1M340 382.5h1m8.5 0h1m.5 0h1m.5 0h1m1.5 0h2.5m.5 0h7m.5 0h9m.5 0h6m1.5 0h1m3.5 0h1m7 0h1m1 0h1m3 0h1M337.5 383h1m6.5 0h1m4 0h3m2 0h1m2.5 0h2m1 0h3.5m.5 0h16.5m7.5 0h1m2.5 0h2.5m.5 0h1m.5 0h2M331.5 383.5h1m8 0h1m2.5 0h1m5.5 0h1m.5 0h1m2 0h1m1 0h1m2 0h1.5m.5 0h13m2 0h3.5m.5 0h1m2 0h1m.5 0h1m7 0h2m.5 0h1m1.5 0h1M347 384h1.5m2 0h1m.5 0h2.5m2.5 0h17m1 0h1m.5 0h1m.5 0h1m1 0h1.5m.5 0h1m2.5 0h1.5m7.5 0h1M341.5 384.5h1m5 0h1m3 0h1m.5 0h1m1 0h1m.5 0h3.5m1 0h2.5m1 0h8.5m.5 0h8m2 0h1m.5 0h1m3 0h1.5m8 0h1m3 0h2M332.5 385h1m5 0h1m2.5 0h1m10.5 0h1m.5 0h1m1 0h8.5m.5 0h3m1 0h5m.5 0h2m2 0h1m3 0h1m.5 0h1m2.5 0h1m1 0h1m2.5 0h1m6 0h1M344.5 385.5h1m5.5 0h2m.5 0h1m2 0h2.5m1 0h2m.5 0h8m.5 0h5.5m2 0h2m4 0h1m1.5 0h1m7 0h1m.5 0h1m1.5 0h2M349 386h1m4 0h2m.5 0h4m.5 0h1.5m1.5 0h6.5m2.5 0h1m.5 0h2.5m1 0h2m2.5 0h1m5 0h1.5m3.5 0h1m10.5 0h1M335 386.5h1m9.5 0h1m6 0h1m.5 0h2m.5 0h3m1 0h2.5m.5 0h1m.5 0h10m1.5 0h1m1 0h1.5m1.5 0h1m1 0h1m4 0h1m7.5 0h1M351.5 387h1m2.5 0h1m.5 0h2m1.5 0h2m.5 0h4.5m3.5 0h2.5m.5 0h1m1 0h1m2 0h1m1.5 0h1m5 0h1m5.5 0h1m2 0h1m1.5 0h2M352.5 387.5h1m2 0h1m4 0h1m.5 0h1.5m1 0h5.5m.5 0h3m.5 0h2.5m4.5 0h2m2 0h1m1 0h1M354.5 388h1m2 0h2m.5 0h5.5m2 0h5m.5 0h1m.5 0h1m.5 0h2m1 0h2m2 0h1m1 0h2m.5 0h1m3.5 0h1m.5 0h2M339.5 388.5h1m6 0h1.5m3 0h1m1.5 0h1m1.5 0h1.5m.5 0h3m.5 0h3.5m1 0h3m.5 0h9M344.5 389h2m3.5 0h2m2 0h1m1 0h2m1 0h4m1.5 0h1m.5 0h5.5m2 0h2m3.5 0h1.5m3.5 0h1m3.5 0h1m4.5 0h1.5M353 389.5h1.5m1.5 0h1.5m.5 0h2.5m1.5 0h1m.5 0h3.5m1.5 0h1m2.5 0h1.5m.5 0h3m2 0h1m1 0h1m1 0h1m4 0h1M341.5 390h1m13 0h1m1 0h3m.5 0h3m1.5 0h2.5m3 0h1.5m1 0h1m3 0h1.5m.5 0h1m2.5 0h1m3.5 0h1m.5 0h1m4.5 0h1M360 390.5h1.5m1.5 0h1m1 0h1.5m.5 0h1.5m1.5 0h1m1 0h1m2.5 0h1m.5 0h1m23 0h1M345 391h1m1.5 0h1m2 0h1m2 0h1m2 0h1m1.5 0h2m1.5 0h1.5m.5 0h1m2 0h1m3 0h3m1 0h1m6 0h1.5m26.5 0h1M353 391.5h1m.5 0h2m2 0h1.5m2.5 0h2.5m1 0h3.5m2 0h1m1 0h2m.5 0h1.5m5 0h1M350 392h2.5m4 0h1m1 0h1m3.5 0h1m1.5 0h2.5m3.5 0h1m2 0h1m2.5 0h1m6 0h1m4 0h1M350.5 392.5h2.5m3.5 0h1m4.5 0h1m.5 0h1m1.5 0h2.5m1.5 0h1m.5 0h1.5m1 0h1m.5 0h1m1 0h1m1.5 0h1m1 0h2m2.5 0h1m3.5 0h1M338.5 393h1m13.5 0h1m7.5 0h2m.5 0h1m.5 0h1.5m2.5 0h1m2 0h1m1 0h1m2 0h1m1 0h2m7 0h1m10.5 0h1M333.5 393.5h1m2 0h1m23 0h1m2 0h1.5m.5 0h1m1.5 0h1m.5 0h1m3 0h1.5m5.5 0h2m.5 0h1m1 0h1m15 0h1M341.5 394h1m1 0h1m6.5 0h1m6 0h2m1.5 0h1m1.5 0h1m4 0h1m2 0h2.5m1 0h1m3.5 0h1m2 0h1m2.5 0h1.5m2.5 0h1m8 0h1M341.5 394.5h1m4 0h1m11 0h3m.5 0h1.5m1 0h1m.5 0h2m1 0h1m3.5 0h2m7.5 0h1m18 0h1M343.5 395h1m9 0h1m5 0h4.5m1 0h1.5m1 0h1m1.5 0h3m6.5 0h2m2 0h1M349 395.5h1m.5 0h1m9 0h1m1.5 0h1.5m.5 0h1m1 0h1m4 0h1m2 0h1.5M348 396h1m4.5 0h1m4.5 0h1m.5 0h1m8 0h1.5m3.5 0h1.5m2 0h1m8.5 0h1M343.5 396.5h1m1.5 0h1.5m16 0h1m1 0h1.5m2 0h3m.5 0h1m.5 0h1m1 0h1m.5 0h1m.5 0h1m4 0h1m4.5 0h1M338 397h1m10 0h1m3 0h1m.5 0h1m9 0h1m1 0h1m2 0h1m.5 0h1m2 0h1m3 0h1M350.5 397.5h1m.5 0h1m8 0h1.5m.5 0h1m7 0h1m3 0h1m.5 0h1m7.5 0h1M344.5 398h1m2.5 0h1m1.5 0h1m8.5 0h1m7.5 0h1m1 0h2m10 0h1m2.5 0h1M356.5 398.5h1m1 0h2m2 0h1m1.5 0h1m2.5 0h1m1 0h1m8 0h1.5m5 0h1M352 399h1m5.5 0h1m1.5 0h1m4 0h1.5m1.5 0h1m.5 0h1m15 0h1.5M351.5 399.5h1m7 0h1m6 0h1m8 0h1m2.5 0h1.5m2.5 0h1m1.5 0h1m3.5 0h1M353 400h1m9.5 0h1m.5 0h2.5m.5 0h1m1.5 0h1m23 0h1M362 400.5h1m2 0h2.5m3 0h1m8 0h1m9.5 0h1M355 401h1m6.5 0h1m.5 0h1m3.5 0h1m.5 0h1m17 0h1M349 401.5h1m4.5 0h2m5 0h1m1.5 0h1m32 0h1M347.5 402h1m10.5 0h1m3.5 0h1m2 0h1m2.5 0h1m2 0h1m1.5 0h1M370 402.5h1m5.5 0h1m1 0h1.5m7.5 0h1m.5 0h1m1 0h1M346.5 403.5h1m.5 0h1m2.5 0h1m5.5 0h1m1.5 0h1.5m2.5 0h1m2.5 0h1M359.5 404h1m2.5 0h2.5m5.5 0h1.5m14 0h1M346 404.5h1m22.5 0h1m8.5 0h1M343.5 405h1m16 0h2M362.5 405.5h1m4.5 0h1m4 0h1M344 406h1m37 0h1M360 406.5h1.5m8.5 0h1M358 407h1m8.5 0h1M374.5 407.5h1M361.5 408h1m2.5 0h1m5 0h1m2.5 0h1M350 408.5h1m2.5 0h1m3 0h1m8.5 0h1M350.5 409h1m4.5 0h1M335.5 409.5h1m5.5 0h1m3 0h1m2 0h1m2 0h2.5m3.5 0h2m.5 0h1m.5 0h3m1 0h1.5m.5 0h1m.5 0h3m5.5 0h1.5m.5 0h3m.5 0h1m7 0h1m15 0h1" stroke="#000" stroke-width=".9" fill="none"/>
<text x="328.8" y="257.6" font-size="10.6">8%</text>
<text x="461.7" y="257.1" font-size="10.6">1%</text>
<text x="327.4" y="405.4" font-size="10.6">83%</text>
<text x="451.2" y="392.8" font-size="10.6">8%</text>
<text x="451.2" y="404.4" font-size="10.6">(1 000)</text>
<text x="0" y="469" font-size="25" class="s" font-weight="bold">E</text>
<rect x="64.4" y="478.4" width="162.9" height="162.80000000000007" fill="none" stroke="#222" stroke-width="1"/>
<line x1="125.3" y1="478.4" x2="125.3" y2="641.2" stroke="#222" stroke-width="1"/>
<line x1="64.4" y1="587.6" x2="227.3" y2="587.6" stroke="#222" stroke-width="1"/>
<line x1="62.00000000000001" y1="641.2" x2="64.4" y2="641.2" stroke="#333" stroke-width="0.45"/>
<line x1="64.4" y1="641.2" x2="64.4" y2="643.6" stroke="#333" stroke-width="0.45"/>
<line x1="63.10000000000001" y1="628.9" x2="64.4" y2="628.9" stroke="#333" stroke-width="0.45"/>
<line x1="76.7" y1="641.2" x2="76.7" y2="642.5" stroke="#333" stroke-width="0.45"/>
<line x1="63.10000000000001" y1="621.8" x2="64.4" y2="621.8" stroke="#333" stroke-width="0.45"/>
<line x1="83.8" y1="641.2" x2="83.8" y2="642.5" stroke="#333" stroke-width="0.45"/>
<line x1="63.10000000000001" y1="616.7" x2="64.4" y2="616.7" stroke="#333" stroke-width="0.45"/>
<line x1="88.9" y1="641.2" x2="88.9" y2="642.5" stroke="#333" stroke-width="0.45"/>
<line x1="63.10000000000001" y1="612.8" x2="64.4" y2="612.8" stroke="#333" stroke-width="0.45"/>
<line x1="92.9" y1="641.2" x2="92.9" y2="642.5" stroke="#333" stroke-width="0.45"/>
<line x1="63.10000000000001" y1="609.5" x2="64.4" y2="609.5" stroke="#333" stroke-width="0.45"/>
<line x1="96.1" y1="641.2" x2="96.1" y2="642.5" stroke="#333" stroke-width="0.45"/>
<line x1="63.10000000000001" y1="606.8" x2="64.4" y2="606.8" stroke="#333" stroke-width="0.45"/>
<line x1="98.8" y1="641.2" x2="98.8" y2="642.5" stroke="#333" stroke-width="0.45"/>
<line x1="63.10000000000001" y1="604.4" x2="64.4" y2="604.4" stroke="#333" stroke-width="0.45"/>
<line x1="101.2" y1="641.2" x2="101.2" y2="642.5" stroke="#333" stroke-width="0.45"/>
<line x1="63.10000000000001" y1="602.4" x2="64.4" y2="602.4" stroke="#333" stroke-width="0.45"/>
<line x1="103.3" y1="641.2" x2="103.3" y2="642.5" stroke="#333" stroke-width="0.45"/>
<line x1="62.00000000000001" y1="600.5" x2="64.4" y2="600.5" stroke="#333" stroke-width="0.45"/>
<line x1="105.1" y1="641.2" x2="105.1" y2="643.6" stroke="#333" stroke-width="0.45"/>
<line x1="63.10000000000001" y1="588.2" x2="64.4" y2="588.2" stroke="#333" stroke-width="0.45"/>
<line x1="117.4" y1="641.2" x2="117.4" y2="642.5" stroke="#333" stroke-width="0.45"/>
<line x1="63.10000000000001" y1="581.1" x2="64.4" y2="581.1" stroke="#333" stroke-width="0.45"/>
<line x1="124.6" y1="641.2" x2="124.6" y2="642.5" stroke="#333" stroke-width="0.45"/>
<line x1="63.10000000000001" y1="576.0" x2="64.4" y2="576.0" stroke="#333" stroke-width="0.45"/>
<line x1="129.6" y1="641.2" x2="129.6" y2="642.5" stroke="#333" stroke-width="0.45"/>
<line x1="63.10000000000001" y1="572.1" x2="64.4" y2="572.1" stroke="#333" stroke-width="0.45"/>
<line x1="133.6" y1="641.2" x2="133.6" y2="642.5" stroke="#333" stroke-width="0.45"/>
<line x1="63.10000000000001" y1="568.8" x2="64.4" y2="568.8" stroke="#333" stroke-width="0.45"/>
<line x1="136.8" y1="641.2" x2="136.8" y2="642.5" stroke="#333" stroke-width="0.45"/>
<line x1="63.10000000000001" y1="566.1" x2="64.4" y2="566.1" stroke="#333" stroke-width="0.45"/>
<line x1="139.5" y1="641.2" x2="139.5" y2="642.5" stroke="#333" stroke-width="0.45"/>
<line x1="63.10000000000001" y1="563.7" x2="64.4" y2="563.7" stroke="#333" stroke-width="0.45"/>
<line x1="141.9" y1="641.2" x2="141.9" y2="642.5" stroke="#333" stroke-width="0.45"/>
<line x1="63.10000000000001" y1="561.7" x2="64.4" y2="561.7" stroke="#333" stroke-width="0.45"/>
<line x1="144.0" y1="641.2" x2="144.0" y2="642.5" stroke="#333" stroke-width="0.45"/>
<line x1="62.00000000000001" y1="559.8" x2="64.4" y2="559.8" stroke="#333" stroke-width="0.45"/>
<line x1="145.9" y1="641.2" x2="145.9" y2="643.6" stroke="#333" stroke-width="0.45"/>
<line x1="63.10000000000001" y1="547.5" x2="64.4" y2="547.5" stroke="#333" stroke-width="0.45"/>
<line x1="158.1" y1="641.2" x2="158.1" y2="642.5" stroke="#333" stroke-width="0.45"/>
<line x1="63.10000000000001" y1="540.4" x2="64.4" y2="540.4" stroke="#333" stroke-width="0.45"/>
<line x1="165.3" y1="641.2" x2="165.3" y2="642.5" stroke="#333" stroke-width="0.45"/>
<line x1="63.10000000000001" y1="535.3" x2="64.4" y2="535.3" stroke="#333" stroke-width="0.45"/>
<line x1="170.4" y1="641.2" x2="170.4" y2="642.5" stroke="#333" stroke-width="0.45"/>
<line x1="63.10000000000001" y1="531.4" x2="64.4" y2="531.4" stroke="#333" stroke-width="0.45"/>
<line x1="174.3" y1="641.2" x2="174.3" y2="642.5" stroke="#333" stroke-width="0.45"/>
<line x1="63.10000000000001" y1="528.1" x2="64.4" y2="528.1" stroke="#333" stroke-width="0.45"/>
<line x1="177.5" y1="641.2" x2="177.5" y2="642.5" stroke="#333" stroke-width="0.45"/>
<line x1="63.10000000000001" y1="525.4" x2="64.4" y2="525.4" stroke="#333" stroke-width="0.45"/>
<line x1="180.3" y1="641.2" x2="180.3" y2="642.5" stroke="#333" stroke-width="0.45"/>
<line x1="63.10000000000001" y1="523.0" x2="64.4" y2="523.0" stroke="#333" stroke-width="0.45"/>
<line x1="182.6" y1="641.2" x2="182.6" y2="642.5" stroke="#333" stroke-width="0.45"/>
<line x1="63.10000000000001" y1="521.0" x2="64.4" y2="521.0" stroke="#333" stroke-width="0.45"/>
<line x1="184.7" y1="641.2" x2="184.7" y2="642.5" stroke="#333" stroke-width="0.45"/>
<line x1="62.00000000000001" y1="519.1" x2="64.4" y2="519.1" stroke="#333" stroke-width="0.45"/>
<line x1="186.6" y1="641.2" x2="186.6" y2="643.6" stroke="#333" stroke-width="0.45"/>
<line x1="63.10000000000001" y1="506.8" x2="64.4" y2="506.8" stroke="#333" stroke-width="0.45"/>
<line x1="198.8" y1="641.2" x2="198.8" y2="642.5" stroke="#333" stroke-width="0.45"/>
<line x1="63.10000000000001" y1="499.7" x2="64.4" y2="499.7" stroke="#333" stroke-width="0.45"/>
<line x1="206.0" y1="641.2" x2="206.0" y2="642.5" stroke="#333" stroke-width="0.45"/>
<line x1="63.10000000000001" y1="494.6" x2="64.4" y2="494.6" stroke="#333" stroke-width="0.45"/>
<line x1="211.1" y1="641.2" x2="211.1" y2="642.5" stroke="#333" stroke-width="0.45"/>
<line x1="63.10000000000001" y1="490.7" x2="64.4" y2="490.7" stroke="#333" stroke-width="0.45"/>
<line x1="215.0" y1="641.2" x2="215.0" y2="642.5" stroke="#333" stroke-width="0.45"/>
<line x1="63.10000000000001" y1="487.4" x2="64.4" y2="487.4" stroke="#333" stroke-width="0.45"/>
<line x1="218.3" y1="641.2" x2="218.3" y2="642.5" stroke="#333" stroke-width="0.45"/>
<line x1="63.10000000000001" y1="484.7" x2="64.4" y2="484.7" stroke="#333" stroke-width="0.45"/>
<line x1="221.0" y1="641.2" x2="221.0" y2="642.5" stroke="#333" stroke-width="0.45"/>
<line x1="63.10000000000001" y1="482.3" x2="64.4" y2="482.3" stroke="#333" stroke-width="0.45"/>
<line x1="223.4" y1="641.2" x2="223.4" y2="642.5" stroke="#333" stroke-width="0.45"/>
<line x1="63.10000000000001" y1="480.3" x2="64.4" y2="480.3" stroke="#333" stroke-width="0.45"/>
<line x1="225.4" y1="641.2" x2="225.4" y2="642.5" stroke="#333" stroke-width="0.45"/>
<line x1="62.00000000000001" y1="478.4" x2="64.4" y2="478.4" stroke="#333" stroke-width="0.45"/>
<line x1="227.3" y1="641.2" x2="227.3" y2="643.6" stroke="#333" stroke-width="0.45"/>
<text x="103.4" y="470.5" font-size="12">10µg/mL</text>
<text x="152.4" y="470.5" font-size="11.5">HABP</text>
<text x="47.0" y="645.8" font-size="9.8">10<tspan font-size="5" dx="0.3" dy="-5.4">0</tspan></text>
<text x="47.0" y="605.4" font-size="9.8">10<tspan font-size="5" dx="0.3" dy="-5.4">2</tspan></text>
<text x="47.0" y="563.3" font-size="9.8">10<tspan font-size="5" dx="0.3" dy="-5.4">2</tspan></text>
<text x="47.0" y="523.0" font-size="9.8">10<tspan font-size="5" dx="0.3" dy="-5.4">3</tspan></text>
<text x="47.0" y="482.5" font-size="9.8">10<tspan font-size="5" dx="0.3" dy="-5.4">4</tspan></text>
<text x="55.4" y="654.3" font-size="9.8">10<tspan font-size="5" dx="0.3" dy="-5.4">0</tspan></text>
<text x="99.4" y="654.3" font-size="9.8">10<tspan font-size="5" dx="0.3" dy="-5.4">1</tspan></text>
<text x="138.9" y="654.3" font-size="9.8">10<tspan font-size="5" dx="0.3" dy="-5.4">2</tspan></text>
<text x="182.2" y="654.3" font-size="9.8">10<tspan font-size="5" dx="0.3" dy="-5.4">3</tspan></text>
<text x="222.2" y="654.3" font-size="9.8">10<tspan font-size="5" dx="0.3" dy="-5.4">4</tspan></text>
<text x="146.3" y="668.5" font-size="14" text-anchor="middle">CD34-FITC</text>
<text transform="translate(40.7 560.4) rotate(-90)" font-size="14" text-anchor="middle">CD38-PE</text>
<path d="M108 533.5h1m11.5 0h1M107 535h1M118 538.5h1M109 539.5h1M102.5 541h1m1.5 0h1M107 541.5h2M118.5 542.5h1M113 544h1M94 544.5h1m10 0h1m5 0h1m1 0h1M110.5 545.5h1m5 0h1m4.5 0h1M112 546h1m5 0h1m4.5 0h1M101 546.5h1m2.5 0h1m3.5 0h1m5 0h1M98.5 547h1m17 0h1m5 0h1m.5 0h1M105 547.5h1m7 0h1.5M106 548h1m12 0h1M100 548.5h1m14.5 0h1M112.5 549h1m1.5 0h1m1.5 0h1m1.5 0h1M112 549.5h1M106 550h1m.5 0h1m6.5 0h1m1 0h1m.5 0h1m15 0h1M103.5 550.5h1m5 0h1.5m1.5 0h1m1 0h1m1 0h1M102.5 551h1m4.5 0h2.5m.5 0h1m4.5 0h1m6 0h2m20.5 0h1M107 551.5h1m1.5 0h1m1 0h1m1 0h1m5.5 0h1m3 0h1M98 552h1m4.5 0h1m2 0h1m3 0h1m1 0h1M103.5 552.5h1m8.5 0h1m5.5 0h1M107.5 553h1m6 0h2m2.5 0h1M106.5 553.5h1.5m14.5 0h1m.5 0h1m1 0h1M99.5 554h1m13 0h1m3.5 0h1m2.5 0h2M102 554.5h1m10 0h2m4 0h1M103 555h1m3.5 0h1m.5 0h1m1 0h1m1.5 0h2m.5 0h1m8.5 0h1M106.5 555.5h2.5m10.5 0h1M103.5 556h1m3.5 0h1m1 0h1m1 0h2m3 0h2m3 0h1M100.5 556.5h1m1 0h1m4 0h1m2 0h2m.5 0h1m1.5 0h1m1 0h1.5m1.5 0h1M106.5 557h1m.5 0h1m3 0h1m1.5 0h2.5m11 0h1M96.5 557.5h1m2.5 0h1m8.5 0h1.5m1.5 0h2.5m.5 0h1m1 0h1m1 0h1M99 558h1m7 0h3m1.5 0h1m2 0h1m1.5 0h1m2 0h1M97.5 558.5h1m1 0h1m3 0h1m1.5 0h1m.5 0h2.5m.5 0h1m4 0h1m4 0h1m.5 0h1M106.5 559h2m1 0h2m3.5 0h1.5m.5 0h1m1 0h2m2.5 0h1.5m7.5 0h1M101 559.5h1m.5 0h2.5m.5 0h1m2.5 0h2m.5 0h1.5m2.5 0h1.5m8.5 0h1.5m2.5 0h1M103.5 560h1.5m2.5 0h1m1 0h1m.5 0h1m1.5 0h1m2.5 0h1m1 0h1m5.5 0h1M101.5 560.5h1m.5 0h1m2.5 0h1m1.5 0h1.5m1 0h1m1.5 0h1m1.5 0h2M104 561h1m1.5 0h1m2.5 0h1m.5 0h1m.5 0h1.5m.5 0h2m1.5 0h2.5m1.5 0h1m1 0h1M101.5 561.5h1m3 0h2.5m.5 0h1m.5 0h2m3 0h1m1.5 0h1m.5 0h1m1.5 0h1m3 0h1m2 0h1M94 562h1m9 0h1m3.5 0h1m2 0h1m1 0h1m1.5 0h2m2.5 0h1m8 0h1M94.5 562.5h1m10 0h1m3 0h3m3 0h1.5m2 0h1m2.5 0h1m.5 0h1M102 563h1m.5 0h1m.5 0h1m3.5 0h3.5m1 0h2m.5 0h1m3 0h1.5m3 0h1m4.5 0h1M98.5 563.5h1m4 0h1m1.5 0h1m1.5 0h2m.5 0h1m1.5 0h2m1.5 0h1m2.5 0h1m4.5 0h1M104.5 564h1m.5 0h1m1.5 0h1m.5 0h1m3 0h2.5m.5 0h3.5m2 0h1m5 0h1M105 564.5h1m2 0h2.5m.5 0h2m.5 0h1m13 0h1m4.5 0h1M101 565h1m.5 0h1m.5 0h3.5m1.5 0h1m2 0h1.5m.5 0h2m.5 0h2.5m2.5 0h1m2.5 0h1M98 565.5h1m4.5 0h2m1 0h3.5m.5 0h1m.5 0h1.5m.5 0h1m1.5 0h1m1.5 0h1m.5 0h1.5m1 0h1m4.5 0h1m20.5 0h1M82.5 566h1m17.5 0h1m3.5 0h1m3 0h1m.5 0h1m3.5 0h1m.5 0h1m3.5 0h1m2.5 0h1.5m6.5 0h1M103 566.5h1m2 0h1.5m.5 0h1m3.5 0h2m.5 0h1m5 0h1.5m4 0h1M104.5 567h1m1.5 0h1m.5 0h2m.5 0h2.5m1.5 0h2.5m1 0h1m4 0h1.5m22 0h1M105.5 567.5h1m.5 0h1m1.5 0h2m1.5 0h1.5m.5 0h1.5m1 0h1m1 0h1m.5 0h1m5 0h1M94 568h1m11 0h2.5m4.5 0h1.5m1.5 0h1.5m1.5 0h1.5m16.5 0h1M103 568.5h1m.5 0h1m5 0h1.5m3.5 0h1.5m.5 0h1m1 0h3m1 0h1m10.5 0h1.5M98.5 569h1m2 0h2m4 0h4m.5 0h5.5m1 0h1m6.5 0h1m2 0h1M98.5 569.5h1m1 0h1m6 0h3m1 0h2.5m3 0h2.5m5 0h1M103.5 570h1m3.5 0h1m1 0h2.5m2.5 0h1m.5 0h1m.5 0h1m.5 0h1m2 0h1m7 0h1m.5 0h1.5m13.5 0h1M105.5 570.5h2m1 0h1m3 0h2m1 0h1m2 0h1m6 0h1m1 0h1M85.5 571h1m10.5 0h1m2.5 0h2.5m2 0h1m.5 0h2.5m.5 0h2m3.5 0h3m1.5 0h1.5m18.5 0h1M98.5 571.5h1m.5 0h2.5m1 0h1m1 0h1.5m2 0h2.5m1.5 0h1m4 0h1m3.5 0h1M90.5 572h1m5 0h1m2.5 0h1m1 0h1m3 0h2m1.5 0h6m10.5 0h1M94 572.5h1m1 0h1m11 0h1m2 0h1m1.5 0h1.5m7 0h2m15 0h1M101.5 573h1m2.5 0h1m1.5 0h1m1.5 0h5.5m1 0h1m5.5 0h1m1 0h1m26 0h1M90.5 573.5h1m5 0h1m1 0h1.5m1.5 0h1m5.5 0h2m.5 0h2.5m3 0h1m.5 0h1m1.5 0h1m2 0h1m2.5 0h1m1.5 0h1m2 0h1m5 0h1M99.5 574h1m7 0h1m5.5 0h1m3 0h2m.5 0h1m3 0h1m1 0h1m8.5 0h1M92.5 574.5h1m6.5 0h1m2 0h1m1 0h1m.5 0h3m2 0h1m.5 0h1m1 0h1.5m2.5 0h1m11.5 0h1m6.5 0h1M102.5 575h3m1 0h1m.5 0h3.5m.5 0h3.5m3 0h1m.5 0h4.5m.5 0h1.5M97.5 575.5h2m.5 0h1m4.5 0h4m2 0h2m.5 0h1.5m1 0h1.5m3.5 0h1.5m.5 0h1m1.5 0h1m9 0h1M98.5 576h1m1 0h1m.5 0h1m2 0h1m3.5 0h1m1 0h5m3.5 0h2m15 0h1M107 576.5h2.5m1 0h2.5m.5 0h1m2.5 0h3m6 0h2.5m2 0h1.5m7.5 0h1M97 577h1m2.5 0h1m1.5 0h1m3.5 0h1.5m.5 0h1m1 0h1m.5 0h1m2 0h2m1.5 0h1m4 0h2m1 0h1m13.5 0h1m3.5 0h1m.5 0h1M100 577.5h1m1 0h1.5m1 0h2m1 0h1m.5 0h1m2 0h1m1 0h1.5m.5 0h1m1 0h1m6 0h1m1.5 0h1.5m.5 0h1m3.5 0h1M92.5 578h1m6 0h1m2.5 0h1m.5 0h1m3.5 0h1m1.5 0h1m1.5 0h1m2 0h1m1 0h3m3 0h1.5m1 0h1m2 0h1M96 578.5h1m.5 0h1m4 0h1m.5 0h1m1 0h1m1 0h5.5m2 0h2m8 0h1m1.5 0h1m2.5 0h1m2.5 0h1m6.5 0h1M88.5 579h1m.5 0h1m5.5 0h1m2.5 0h1m2.5 0h1.5m3 0h1m1.5 0h1m1 0h1.5m1 0h3m1.5 0h3m1.5 0h4.5m.5 0h1m10.5 0h1M94 579.5h2m1 0h1m1 0h1m2.5 0h1m.5 0h1m2 0h1m1.5 0h2m1 0h1.5m.5 0h3.5m1.5 0h1m2.5 0h1.5m.5 0h1m5 0h2m6 0h1m5 0h1M101 580h1m2.5 0h1m2.5 0h1m3 0h1.5m3 0h1m2 0h2m4 0h1m2.5 0h1M95.5 580.5h2.5m1 0h1m2.5 0h1m3 0h1m.5 0h2.5m1 0h3.5m1.5 0h2.5m1 0h1.5m4.5 0h1m8.5 0h1M82.5 581h1m13.5 0h1m4 0h1m.5 0h1m.5 0h5m.5 0h1.5m2 0h2m1 0h1m.5 0h1m.5 0h1m3.5 0h2m4 0h1m7 0h2m3 0h1m3 0h1M96 581.5h2m3.5 0h1.5m1.5 0h1.5m1.5 0h3m1 0h2.5m1 0h1m1.5 0h1m4 0h1m1 0h1m2.5 0h1m3.5 0h1m1.5 0h1m2 0h1m16 0h1M101 582h1m.5 0h3.5m1.5 0h3m.5 0h2.5m2 0h3m2 0h1m2.5 0h1m6 0h1m.5 0h1M96.5 582.5h1m.5 0h1m3 0h1m1.5 0h1.5m.5 0h2m1.5 0h1m1 0h1m.5 0h1m1 0h1m.5 0h3.5m3 0h1m.5 0h1m2 0h1m1 0h1m3.5 0h1m4.5 0h1m1.5 0h1M97 583h1m3.5 0h1m2.5 0h2m1 0h1m.5 0h1m.5 0h1m.5 0h2m.5 0h5.5m1.5 0h1.5m3.5 0h1m2 0h1m3.5 0h1m5.5 0h1m.5 0h2m1 0h1m2.5 0h1M88.5 583.5h1m4 0h1m2 0h2m1.5 0h1m.5 0h3.5m.5 0h1m.5 0h3m4 0h1m1 0h1.5m.5 0h1m2 0h1m5 0h1m7.5 0h2m1.5 0h1m14 0h1M97.5 584h1m1.5 0h2m2 0h3m1 0h11.5m1 0h2m1.5 0h2m1.5 0h1.5m3 0h1m1 0h1m.5 0h1m2 0h1m8.5 0h1M94.5 584.5h1m3.5 0h1m2.5 0h1m2 0h5m.5 0h1m.5 0h2.5m2 0h1.5m.5 0h1.5m5 0h1m5.5 0h1m8.5 0h1M97 585h1m1 0h1m1.5 0h2m.5 0h1m1 0h3m1 0h1m.5 0h10m1 0h1m.5 0h1m.5 0h1m3.5 0h1.5m6 0h1.5m5 0h1m4.5 0h1M96.5 585.5h2.5m4.5 0h1m1.5 0h1m.5 0h2m.5 0h9m1 0h4.5m1 0h3m1.5 0h1.5m3 0h1m3.5 0h1m1.5 0h1m5 0h1M89.5 586h1m4.5 0h1m4 0h3m1 0h1m.5 0h2.5m.5 0h4.5m.5 0h5m.5 0h2.5m6 0h1m6.5 0h1.5m7 0h1M95 586.5h1m2.5 0h3m.5 0h1m.5 0h1m.5 0h2.5m.5 0h3.5m.5 0h4.5m1 0h2.5m.5 0h1.5m1 0h1.5m.5 0h1m1.5 0h1m3 0h1m1 0h1m1 0h1m1.5 0h1m3 0h1M85.5 587h1m5 0h2m2.5 0h2.5m.5 0h3.5m1 0h1m.5 0h2.5m.5 0h2m.5 0h2.5m3 0h7.5m1 0h2m.5 0h1m3 0h1m1 0h1m.5 0h2m.5 0h1m3.5 0h2M83 587.5h1m17 0h3m.5 0h6.5m.5 0h4m.5 0h2m.5 0h6.5m.5 0h1m.5 0h1m7.5 0h1m1 0h1m2.5 0h1M78.5 588h1m17 0h1m.5 0h1m.5 0h1m4 0h1m1 0h4.5m1 0h2.5m.5 0h1m3.5 0h1m.5 0h2.5m1 0h1m3 0h1m1 0h1m3 0h1m.5 0h1m.5 0h2m1.5 0h1M84.5 588.5h1m4 0h1m9.5 0h5.5m2.5 0h1.5m.5 0h2m.5 0h2m.5 0h1.5m1.5 0h2m.5 0h1.5m.5 0h2m.5 0h1m4 0h2.5m4 0h1m1.5 0h2M88.5 589h2m9 0h1m1 0h1m.5 0h4m.5 0h4.5m.5 0h1.5m.5 0h9.5m2 0h1m2 0h2.5m2.5 0h1M90.5 589.5h1m6 0h1m1 0h3.5m.5 0h3m.5 0h9.5m.5 0h1m.5 0h3.5m6 0h1m.5 0h1.5m.5 0h2.5m.5 0h2m.5 0h1.5m1 0h1M93 590h1.5m1.5 0h1m2 0h2m1 0h2m.5 0h2m1 0h1m.5 0h7.5m.5 0h4m.5 0h1m.5 0h2.5m1.5 0h1m3 0h1.5m2.5 0h3m2 0h2m1.5 0h2M86.5 590.5h1m5 0h1m6 0h1m1 0h4m.5 0h10m.5 0h1m.5 0h3m5.5 0h1m2 0h1m.5 0h1m3.5 0h1m4 0h1M80.5 591h1m12.5 0h1m2.5 0h1m2 0h13.5m1 0h1.5m.5 0h1m.5 0h2.5m1 0h1m2 0h1m1 0h1m1 0h1m.5 0h1m2 0h2m.5 0h2.5m4 0h1M87.5 591.5h1m6 0h1m5 0h4m.5 0h1.5m.5 0h4.5m.5 0h3.5m.5 0h3m1 0h1.5m.5 0h1.5m.5 0h2m2.5 0h1m1 0h1m.5 0h1m5 0h1m2 0h1M84 592h1m6.5 0h1m4 0h1m1 0h5.5m1.5 0h8m.5 0h6m.5 0h3m.5 0h3m.5 0h1m1 0h1m4 0h2m1.5 0h1m4 0h1M92.5 592.5h2m.5 0h1.5m.5 0h1m.5 0h1m1 0h3m.5 0h3m.5 0h7.5m1 0h7.5m1.5 0h1m1 0h2m2 0h1m1.5 0h1m1.5 0h1m1 0h1.5M92 593h1m2 0h2m3.5 0h18m.5 0h3m1 0h1m3 0h1.5m3.5 0h2m1.5 0h1m2.5 0h1m.5 0h1M96.5 593.5h1m2.5 0h8.5m1 0h2.5m1 0h1m.5 0h6.5m.5 0h2m3.5 0h1m1 0h1m.5 0h1m1 0h1m1 0h1m2.5 0h1M85 594h1m10 0h2.5m1.5 0h7m.5 0h3m.5 0h4.5m.5 0h6m1 0h1m1 0h1m2.5 0h1m1 0h1.5m1 0h1.5m2 0h1m1.5 0h2m1.5 0h1m1 0h1M96 594.5h2m1 0h1m1 0h24m1 0h1.5m1 0h2m1 0h1m2.5 0h2.5m.5 0h1m2.5 0h1M89.5 595h1m3.5 0h1m.5 0h3m2 0h10.5m.5 0h3.5m1.5 0h4m.5 0h3m1.5 0h1.5m1.5 0h1m2.5 0h1m1 0h1m.5 0h1.5m.5 0h1m1.5 0h2m3.5 0h1M88.5 595.5h2m1.5 0h1m3 0h2.5m.5 0h19m1 0h3m1 0h1.5m4 0h1m3 0h1m1.5 0h2m6.5 0h1M93 596h3m1.5 0h3m.5 0h18m.5 0h1m3.5 0h1m1.5 0h1m1.5 0h1m2.5 0h3m4 0h1m.5 0h1M84 596.5h1m9.5 0h1m.5 0h1m1.5 0h1m1 0h7m.5 0h12m.5 0h1m.5 0h1.5m.5 0h2m.5 0h2.5m3.5 0h1m1.5 0h2m1 0h2.5m.5 0h1m2.5 0h1.5M89 597h1m3 0h1m2.5 0h7m.5 0h14m1 0h7.5m3 0h1m3.5 0h4m.5 0h1m4 0h1m3.5 0h1M91 597.5h1m1.5 0h1m2 0h1.5m.5 0h5.5m.5 0h18m1 0h1m.5 0h1m1.5 0h1.5m2 0h1.5m4 0h1m2 0h1m7 0h1M90.5 598h1.5m1 0h5m.5 0h24.5m1.5 0h1m.5 0h1m.5 0h2m1 0h1.5m4 0h2M86 598.5h1m3.5 0h1m2.5 0h1m1.5 0h3m.5 0h1m.5 0h11.5m.5 0h9m5 0h1m.5 0h1m1.5 0h1m.5 0h1m2.5 0h1m1.5 0h4M93 599h8m1 0h20.5m1 0h3m3 0h2.5m1.5 0h5m1.5 0h1m.5 0h1m5 0h1M87.5 599.5h1m1 0h1m1.5 0h1m2 0h1m1.5 0h3m.5 0h21m1 0h2.5m3.5 0h3.5m.5 0h1m4 0h1m1 0h1.5M93 600h2m1 0h1m.5 0h19.5m2 0h6.5m3 0h1m.5 0h2m1.5 0h3m4.5 0h1m2.5 0h1m4.5 0h1M89.5 600.5h1m.5 0h1m.5 0h1m1 0h33.5m1.5 0h1m2 0h1.5m3.5 0h1m.5 0h1m3.5 0h1M80.5 601h1m6 0h1m3 0h1m.5 0h1.5m.5 0h5.5m.5 0h16m1.5 0h1m1 0h5.5m.5 0h2m3 0h1m1 0h1m1 0h1.5m5 0h1m1 0h1m2.5 0h1M89.5 601.5h1m2 0h3m1 0h26.5m1.5 0h3m1.5 0h1m.5 0h1m1 0h2.5m2 0h1m1.5 0h1m.5 0h1m2.5 0h1M93 602h1.5m2 0h2m1.5 0h21.5m1 0h3.5m.5 0h1m2 0h1m2.5 0h2m1 0h1.5m1.5 0h1m2.5 0h1M87.5 602.5h1m1 0h1m.5 0h2.5m.5 0h3m.5 0h20.5m.5 0h3m.5 0h2m.5 0h1m2 0h2m.5 0h5.5m.5 0h2.5m2.5 0h1M90.5 603h1m.5 0h2m1.5 0h27.5m.5 0h1.5m1 0h1.5m.5 0h1m1 0h5m.5 0h2m.5 0h1m1 0h1m.5 0h1M85.5 603.5h1m2.5 0h1m2.5 0h1m.5 0h1m.5 0h27.5m4.5 0h2m2 0h1.5m5 0h1m2 0h1m2.5 0h1M88 604h1m4 0h1.5m1 0h1.5m.5 0h1m1 0h22m2 0h4m.5 0h1.5m1.5 0h1m3.5 0h2.5m1.5 0h1.5m.5 0h1.5m1 0h2M80 604.5h1m7 0h1m.5 0h1m.5 0h3.5m.5 0h30m1 0h1m5 0h1m3 0h1M88.5 605h1m2 0h2m1 0h1.5m.5 0h4m.5 0h7m.5 0h17m1.5 0h1m1 0h1m2 0h1m1.5 0h1m.5 0h1.5m.5 0h1m1 0h2m1.5 0h1M74.5 605.5h1m11.5 0h1m1.5 0h1m4 0h1.5m.5 0h24m.5 0h1.5m2 0h1.5m6 0h1m.5 0h2m1 0h1M91 606h1m2.5 0h23.5m.5 0h6.5m.5 0h2m1.5 0h1m1 0h1m1 0h1m3.5 0h1m4 0h1M87.5 606.5h1.5m.5 0h1m2 0h2m1 0h2m1 0h24m.5 0h3m.5 0h1m6.5 0h1m5 0h1m.5 0h1M87 607h1.5m3.5 0h1m1.5 0h21.5m.5 0h2.5m1 0h2.5m1.5 0h2m1 0h2m1 0h1m2.5 0h1m4 0h2m1 0h1m4 0h2M90.5 607.5h3m1.5 0h2.5m1 0h18.5m1.5 0h1m.5 0h3m1.5 0h1m3.5 0h1m8 0h1M92 608h1.5m3 0h2m.5 0h19.5m1.5 0h2m.5 0h1.5m.5 0h4m.5 0h2.5m1 0h2m2 0h1.5m3 0h1.5M86 608.5h2m.5 0h1m2.5 0h7m1.5 0h3m.5 0h18m3.5 0h2m1 0h2m4.5 0h2.5m2.5 0h1m2.5 0h1m1.5 0h1M94 609h24.5m.5 0h5m1 0h1.5m.5 0h1m1 0h1m1 0h1m.5 0h1m.5 0h1m3 0h1m2.5 0h1M85 609.5h2m6.5 0h23m1 0h2.5m.5 0h2m1 0h2m1.5 0h1m.5 0h1m.5 0h2m1.5 0h1m.5 0h1m8 0h1M90.5 610h2m1 0h1.5m.5 0h26m1 0h3.5m2.5 0h3m1 0h1m3.5 0h1M87.5 610.5h1m2 0h1m.5 0h1m1 0h3m.5 0h1m1 0h19m.5 0h2m.5 0h1m.5 0h1.5m.5 0h1m2.5 0h1m1 0h1m2 0h1.5m1 0h1m1.5 0h1M93 611h1.5m.5 0h3m1 0h2.5m.5 0h21m2.5 0h2m1 0h1m4.5 0h1m1 0h1m10.5 0h1m3.5 0h1M77.5 611.5h1m2.5 0h1m5.5 0h1m4 0h1m1 0h4m.5 0h2.5m.5 0h3.5m1 0h13m4 0h3m.5 0h1m4 0h1.5m4 0h1m3.5 0h2m6 0h1M85.5 612h1.5m3.5 0h1m.5 0h11m.5 0h11m.5 0h5m.5 0h2.5m2 0h1m1 0h1m1.5 0h1.5m1 0h1m3.5 0h1m1 0h1m6 0h1M88.5 612.5h1.5m2 0h5.5m1 0h22m1 0h1m.5 0h1m1 0h1m13.5 0h1m1.5 0h1M89.5 613h1m1 0h2.5m.5 0h3.5m1 0h1.5m.5 0h1.5m.5 0h3.5m.5 0h2.5m.5 0h5m.5 0h2m.5 0h1m1 0h2m3 0h1m.5 0h3m1.5 0h1.5m1 0h1m1.5 0h1m4.5 0h1M90.5 613.5h1m1.5 0h1.5m2 0h1m1 0h8m.5 0h8.5m.5 0h2.5m.5 0h1m1.5 0h1m1 0h1m.5 0h1m1.5 0h1.5m1.5 0h2m1.5 0h1.5m5 0h1M83.5 614h1m11.5 0h2m1 0h12.5m.5 0h2m1 0h1.5m.5 0h1m.5 0h2m1.5 0h1m4 0h2m3 0h1m5.5 0h1m3 0h1.5m3 0h1m1 0h1M86.5 614.5h1m2 0h1.5m1.5 0h1.5m2 0h2m.5 0h17.5m2 0h2.5m1.5 0h1.5m4.5 0h1m4.5 0h1m1 0h1m3.5 0h1.5M86.5 615h1m3.5 0h2m1.5 0h3m.5 0h2.5m1.5 0h8.5m.5 0h7.5m1.5 0h3m2.5 0h1m3 0h1m2 0h2m5.5 0h1M90 615.5h1m.5 0h1m1 0h1.5m.5 0h2.5m.5 0h14.5m1.5 0h5.5m1.5 0h4m1.5 0h1m1 0h1m2 0h2m2 0h2m3 0h1M83 616h1m6.5 0h2m2.5 0h3.5m.5 0h1m1.5 0h3.5m.5 0h5m.5 0h3m.5 0h2m1.5 0h5m1.5 0h1.5m4.5 0h1m.5 0h1m9.5 0h1M90.5 616.5h1m1 0h1.5m.5 0h1.5m.5 0h2.5m.5 0h1m.5 0h9.5m1 0h3.5m.5 0h3.5m.5 0h1.5m7 0h1m.5 0h2.5M87 617h1m3.5 0h1m.5 0h3.5m1 0h1.5m.5 0h1m1.5 0h11m.5 0h2m.5 0h1m.5 0h1m.5 0h1m2 0h3m.5 0h1m1.5 0h1m4 0h1m1 0h1.5m1 0h1M87.5 617.5h1m.5 0h1m2.5 0h2m.5 0h5m1.5 0h1m.5 0h8.5m1 0h1m.5 0h5.5m1.5 0h1m2.5 0h1m1 0h1m4.5 0h1m1.5 0h1M88.5 618h1m.5 0h1m2.5 0h1m.5 0h1m1 0h1.5m.5 0h1.5m.5 0h1m.5 0h4m.5 0h8.5m.5 0h2m3 0h1m1 0h1m1.5 0h1m6.5 0h1m1 0h1m2.5 0h1M86.5 618.5h1m3 0h1m2.5 0h1.5m.5 0h2m1 0h1.5m1 0h1m1 0h12m2.5 0h1.5m.5 0h1m1 0h1m2 0h1m6.5 0h2m2.5 0h1M92.5 619h2.5m.5 0h1m.5 0h1m1 0h2m.5 0h7.5m1 0h5m.5 0h1m1 0h2.5m4.5 0h1m2 0h1M88 619.5h1m1 0h2m.5 0h3.5m1.5 0h3.5m.5 0h4.5m.5 0h7.5m1.5 0h1.5m.5 0h1m4.5 0h1m7 0h1m2 0h1M88 620h1m5.5 0h1m2.5 0h7.5m.5 0h4.5m2 0h1.5m2 0h6m10 0h1m4 0h1m2 0h1m.5 0h1M88.5 620.5h1m4 0h1m1 0h2m1.5 0h5.5m1 0h1m.5 0h3m1 0h4m.5 0h3m.5 0h3m2 0h1m.5 0h1m4 0h1m4.5 0h1m2 0h1M71.5 621h1m9 0h1m6.5 0h1m2.5 0h2m1.5 0h1m.5 0h2m.5 0h2.5m1 0h2m.5 0h1m.5 0h4.5m1 0h2m1.5 0h2m1.5 0h1m7.5 0h1m2.5 0h1m1 0h1m3 0h1M83.5 621.5h1m6 0h1m5 0h1m1 0h1.5m.5 0h2m.5 0h9.5m.5 0h1m2 0h2m2 0h1m.5 0h1m.5 0h1m9 0h1M91 622h4m.5 0h3.5m2.5 0h3.5m.5 0h2m1 0h1m.5 0h3.5m2.5 0h2m2.5 0h1m.5 0h1m2.5 0h2.5m13.5 0h1M81 622.5h1m7 0h1m3.5 0h1m1.5 0h1m.5 0h1.5m1.5 0h5m2 0h2.5m2.5 0h1m.5 0h1.5m1.5 0h1m5.5 0h1.5m1 0h1M86.5 623h1m1 0h1m3 0h1m2 0h2m3 0h2m.5 0h1m.5 0h3m.5 0h3.5m.5 0h2.5m1 0h2m1 0h2m3.5 0h1m5.5 0h1m9 0h1m2 0h1M84.5 623.5h1m.5 0h1.5m3 0h1m2 0h1.5m5 0h5.5m1.5 0h4.5m2 0h4m1 0h1.5m4 0h1M85.5 624h2m5 0h1m2 0h1m1 0h3m1 0h3m4.5 0h1m1.5 0h2m3.5 0h1m1 0h1m12 0h1M90 624.5h1m1.5 0h1.5m1 0h4m2.5 0h2.5m1.5 0h2.5m.5 0h1m2 0h1m2 0h1.5m.5 0h2.5m9.5 0h1m3.5 0h1M92.5 625h1m1 0h1.5m1.5 0h1m2.5 0h2m1.5 0h1m1.5 0h3m.5 0h1m1 0h2m1 0h1m1 0h1M93.5 625.5h1m2.5 0h1m3 0h1.5m2 0h3m.5 0h2.5m1 0h1m4.5 0h1m2.5 0h2m3 0h1m7 0h1m1.5 0h1M72.5 626h1m21.5 0h1m1 0h1m.5 0h2m1 0h4m2 0h1m2 0h2m1 0h1.5m3 0h1m17 0h1M84 626.5h1m2.5 0h1m.5 0h1m2 0h1m1 0h1m1 0h2m1.5 0h1m1.5 0h1m1 0h1.5m1 0h2m11 0h2.5m1 0h1m2.5 0h1m6.5 0h1m1 0h1.5M85.5 627h1m3 0h1m1.5 0h1m.5 0h1m.5 0h1m2 0h1m.5 0h1m2.5 0h1m.5 0h2.5m3 0h2m1 0h2.5m1 0h2m4 0h1m1.5 0h1M89 627.5h1.5m2.5 0h1m1 0h1.5m1 0h1m1 0h1m2 0h1m.5 0h1.5m1 0h1m1.5 0h1m1 0h1m2 0h1m2.5 0h1m.5 0h1.5m9.5 0h1m3 0h2M73.5 628h1m12 0h1m9 0h2m1.5 0h1.5m.5 0h2m1 0h3m1 0h1m.5 0h1.5m2 0h1.5m11 0h1m6 0h1M92 628.5h1m5.5 0h1m3 0h1m.5 0h2m.5 0h2m.5 0h1m2.5 0h1m1.5 0h1.5m.5 0h1.5m1 0h1M92.5 629h1m2 0h1m1 0h1.5m1 0h1m.5 0h1.5m1 0h1m2.5 0h1m.5 0h1m2.5 0h1m2.5 0h2.5m15 0h1M85.5 629.5h1m3.5 0h1m1 0h1m2 0h1m2.5 0h1m.5 0h1.5m.5 0h1m.5 0h1m2.5 0h1m1 0h1m11 0h1m.5 0h1m4 0h1m16.5 0h1M89.5 630h1.5m6.5 0h1m.5 0h2.5m3 0h1m1 0h1m.5 0h1.5m6 0h2m2 0h1M84 630.5h1m8 0h1m6 0h1m.5 0h1.5m1 0h1m.5 0h1.5m1.5 0h2m1 0h1.5m.5 0h1m1.5 0h1.5M90 631h1m4.5 0h1m1.5 0h1m1.5 0h1m1.5 0h1m1.5 0h1.5m7 0h1m4 0h2m4.5 0h1.5M99 631.5h1m2.5 0h1.5m1.5 0h1m2 0h1m2 0h1m.5 0h1m6.5 0h1m1 0h1M85 632h1m3.5 0h1m4.5 0h2m2.5 0h1m6 0h1m1 0h2M84.5 632.5h1m8 0h1m8 0h1m1.5 0h1.5m.5 0h1m4.5 0h1m5 0h1m1.5 0h1M95 633h1m2.5 0h1m.5 0h1.5m1 0h1m2 0h1m5 0h1.5m1.5 0h1.5M103 633.5h1m5 0h2.5m6 0h1m1.5 0h2M90.5 634h1m7 0h1m2.5 0h1m3 0h1m4.5 0h1m9 0h1m9 0h1M96.5 634.5h1m1.5 0h1m7.5 0h1m1 0h1M101 635h1m2 0h1m30.5 0h1M104 635.5h1m2.5 0h1m5.5 0h1m2 0h1M99.5 636h1.5m6 0h1m5 0h1m16 0h1M96.5 636.5h1m3 0h1m5 0h1m2 0h1m7 0h1m8 0h1M93 637h2m9 0h1m.5 0h1m6.5 0h1m3.5 0h1m7.5 0h1M115 637.5h1m3 0h1M104.5 638h1m11.5 0h1M93 638.5h1M84.5 639h1m12 0h1m4 0h1M102 639.5h1m2 0h1.5M79 640h1m30 0h1M90 640.5h1m7 0h1m2.5 0h1m5.5 0h1m11 0h1.5M82.5 641h1m2 0h1.5m1 0h2m2 0h2m1.5 0h1m1 0h4m.5 0h2.5m.5 0h2m2.5 0h5m2 0h2.5m2.5 0h1m.5 0h1m7.5 0h1m5.5 0h1" stroke="#000" stroke-width=".9" fill="none"/>
<text x="70.4" y="489.2" font-size="10.6">13%</text>
<text x="202.1" y="487.9" font-size="10.6">1%</text>
<text x="68" y="636.3" font-size="10.6">78%</text>
<text x="191.2" y="623.3" font-size="10.6">7%</text>
<text x="191.2" y="635.4" font-size="10.6">(1 097)</text>
<text x="271.3" y="469.3" font-size="25" class="s" font-weight="bold">F</text>
<rect x="324" y="479" width="163.5" height="162.5" fill="none" stroke="#222" stroke-width="1"/>
<line x1="385.5" y1="479" x2="385.5" y2="641.5" stroke="#222" stroke-width="1"/>
<line x1="324" y1="588.2" x2="487.5" y2="588.2" stroke="#222" stroke-width="1"/>
<line x1="321.6" y1="641.5" x2="324" y2="641.5" stroke="#333" stroke-width="0.45"/>
<line x1="324.0" y1="641.5" x2="324.0" y2="643.9" stroke="#333" stroke-width="0.45"/>
<line x1="322.7" y1="629.3" x2="324" y2="629.3" stroke="#333" stroke-width="0.45"/>
<line x1="336.3" y1="641.5" x2="336.3" y2="642.8" stroke="#333" stroke-width="0.45"/>
<line x1="322.7" y1="622.1" x2="324" y2="622.1" stroke="#333" stroke-width="0.45"/>
<line x1="343.5" y1="641.5" x2="343.5" y2="642.8" stroke="#333" stroke-width="0.45"/>
<line x1="322.7" y1="617.0" x2="324" y2="617.0" stroke="#333" stroke-width="0.45"/>
<line x1="348.6" y1="641.5" x2="348.6" y2="642.8" stroke="#333" stroke-width="0.45"/>
<line x1="322.7" y1="613.1" x2="324" y2="613.1" stroke="#333" stroke-width="0.45"/>
<line x1="352.6" y1="641.5" x2="352.6" y2="642.8" stroke="#333" stroke-width="0.45"/>
<line x1="322.7" y1="609.9" x2="324" y2="609.9" stroke="#333" stroke-width="0.45"/>
<line x1="355.8" y1="641.5" x2="355.8" y2="642.8" stroke="#333" stroke-width="0.45"/>
<line x1="322.7" y1="607.2" x2="324" y2="607.2" stroke="#333" stroke-width="0.45"/>
<line x1="358.5" y1="641.5" x2="358.5" y2="642.8" stroke="#333" stroke-width="0.45"/>
<line x1="322.7" y1="604.8" x2="324" y2="604.8" stroke="#333" stroke-width="0.45"/>
<line x1="360.9" y1="641.5" x2="360.9" y2="642.8" stroke="#333" stroke-width="0.45"/>
<line x1="322.7" y1="602.7" x2="324" y2="602.7" stroke="#333" stroke-width="0.45"/>
<line x1="363.0" y1="641.5" x2="363.0" y2="642.8" stroke="#333" stroke-width="0.45"/>
<line x1="321.6" y1="600.9" x2="324" y2="600.9" stroke="#333" stroke-width="0.45"/>
<line x1="364.9" y1="641.5" x2="364.9" y2="643.9" stroke="#333" stroke-width="0.45"/>
<line x1="322.7" y1="588.6" x2="324" y2="588.6" stroke="#333" stroke-width="0.45"/>
<line x1="377.2" y1="641.5" x2="377.2" y2="642.8" stroke="#333" stroke-width="0.45"/>
<line x1="322.7" y1="581.5" x2="324" y2="581.5" stroke="#333" stroke-width="0.45"/>
<line x1="384.4" y1="641.5" x2="384.4" y2="642.8" stroke="#333" stroke-width="0.45"/>
<line x1="322.7" y1="576.4" x2="324" y2="576.4" stroke="#333" stroke-width="0.45"/>
<line x1="389.5" y1="641.5" x2="389.5" y2="642.8" stroke="#333" stroke-width="0.45"/>
<line x1="322.7" y1="572.5" x2="324" y2="572.5" stroke="#333" stroke-width="0.45"/>
<line x1="393.4" y1="641.5" x2="393.4" y2="642.8" stroke="#333" stroke-width="0.45"/>
<line x1="322.7" y1="569.3" x2="324" y2="569.3" stroke="#333" stroke-width="0.45"/>
<line x1="396.7" y1="641.5" x2="396.7" y2="642.8" stroke="#333" stroke-width="0.45"/>
<line x1="322.7" y1="566.5" x2="324" y2="566.5" stroke="#333" stroke-width="0.45"/>
<line x1="399.4" y1="641.5" x2="399.4" y2="642.8" stroke="#333" stroke-width="0.45"/>
<line x1="322.7" y1="564.2" x2="324" y2="564.2" stroke="#333" stroke-width="0.45"/>
<line x1="401.8" y1="641.5" x2="401.8" y2="642.8" stroke="#333" stroke-width="0.45"/>
<line x1="322.7" y1="562.1" x2="324" y2="562.1" stroke="#333" stroke-width="0.45"/>
<line x1="403.9" y1="641.5" x2="403.9" y2="642.8" stroke="#333" stroke-width="0.45"/>
<line x1="321.6" y1="560.2" x2="324" y2="560.2" stroke="#333" stroke-width="0.45"/>
<line x1="405.8" y1="641.5" x2="405.8" y2="643.9" stroke="#333" stroke-width="0.45"/>
<line x1="322.7" y1="548.0" x2="324" y2="548.0" stroke="#333" stroke-width="0.45"/>
<line x1="418.1" y1="641.5" x2="418.1" y2="642.8" stroke="#333" stroke-width="0.45"/>
<line x1="322.7" y1="540.9" x2="324" y2="540.9" stroke="#333" stroke-width="0.45"/>
<line x1="425.3" y1="641.5" x2="425.3" y2="642.8" stroke="#333" stroke-width="0.45"/>
<line x1="322.7" y1="535.8" x2="324" y2="535.8" stroke="#333" stroke-width="0.45"/>
<line x1="430.4" y1="641.5" x2="430.4" y2="642.8" stroke="#333" stroke-width="0.45"/>
<line x1="322.7" y1="531.9" x2="324" y2="531.9" stroke="#333" stroke-width="0.45"/>
<line x1="434.3" y1="641.5" x2="434.3" y2="642.8" stroke="#333" stroke-width="0.45"/>
<line x1="322.7" y1="528.6" x2="324" y2="528.6" stroke="#333" stroke-width="0.45"/>
<line x1="437.6" y1="641.5" x2="437.6" y2="642.8" stroke="#333" stroke-width="0.45"/>
<line x1="322.7" y1="525.9" x2="324" y2="525.9" stroke="#333" stroke-width="0.45"/>
<line x1="440.3" y1="641.5" x2="440.3" y2="642.8" stroke="#333" stroke-width="0.45"/>
<line x1="322.7" y1="523.6" x2="324" y2="523.6" stroke="#333" stroke-width="0.45"/>
<line x1="442.7" y1="641.5" x2="442.7" y2="642.8" stroke="#333" stroke-width="0.45"/>
<line x1="322.7" y1="521.5" x2="324" y2="521.5" stroke="#333" stroke-width="0.45"/>
<line x1="444.8" y1="641.5" x2="444.8" y2="642.8" stroke="#333" stroke-width="0.45"/>
<line x1="321.6" y1="519.6" x2="324" y2="519.6" stroke="#333" stroke-width="0.45"/>
<line x1="446.6" y1="641.5" x2="446.6" y2="643.9" stroke="#333" stroke-width="0.45"/>
<line x1="322.7" y1="507.4" x2="324" y2="507.4" stroke="#333" stroke-width="0.45"/>
<line x1="458.9" y1="641.5" x2="458.9" y2="642.8" stroke="#333" stroke-width="0.45"/>
<line x1="322.7" y1="500.2" x2="324" y2="500.2" stroke="#333" stroke-width="0.45"/>
<line x1="466.1" y1="641.5" x2="466.1" y2="642.8" stroke="#333" stroke-width="0.45"/>
<line x1="322.7" y1="495.2" x2="324" y2="495.2" stroke="#333" stroke-width="0.45"/>
<line x1="471.2" y1="641.5" x2="471.2" y2="642.8" stroke="#333" stroke-width="0.45"/>
<line x1="322.7" y1="491.2" x2="324" y2="491.2" stroke="#333" stroke-width="0.45"/>
<line x1="475.2" y1="641.5" x2="475.2" y2="642.8" stroke="#333" stroke-width="0.45"/>
<line x1="322.7" y1="488.0" x2="324" y2="488.0" stroke="#333" stroke-width="0.45"/>
<line x1="478.4" y1="641.5" x2="478.4" y2="642.8" stroke="#333" stroke-width="0.45"/>
<line x1="322.7" y1="485.3" x2="324" y2="485.3" stroke="#333" stroke-width="0.45"/>
<line x1="481.2" y1="641.5" x2="481.2" y2="642.8" stroke="#333" stroke-width="0.45"/>
<line x1="322.7" y1="482.9" x2="324" y2="482.9" stroke="#333" stroke-width="0.45"/>
<line x1="483.5" y1="641.5" x2="483.5" y2="642.8" stroke="#333" stroke-width="0.45"/>
<line x1="322.7" y1="480.9" x2="324" y2="480.9" stroke="#333" stroke-width="0.45"/>
<line x1="485.6" y1="641.5" x2="485.6" y2="642.8" stroke="#333" stroke-width="0.45"/>
<line x1="321.6" y1="479" x2="324" y2="479" stroke="#333" stroke-width="0.45"/>
<line x1="487.5" y1="641.5" x2="487.5" y2="643.9" stroke="#333" stroke-width="0.45"/>
<text x="361.7" y="470.5" font-size="12">20µg/mL</text>
<text x="412.1" y="470.5" font-size="11.5">HABP</text>
<text x="306.6" y="645.8" font-size="9.8">10<tspan font-size="5" dx="0.3" dy="-5.4">0</tspan></text>
<text x="306.6" y="605.4" font-size="9.8">10<tspan font-size="5" dx="0.3" dy="-5.4">1</tspan></text>
<text x="306.6" y="563.8" font-size="9.8">10<tspan font-size="5" dx="0.3" dy="-5.4">2</tspan></text>
<text x="306.6" y="523.6" font-size="9.8">10<tspan font-size="5" dx="0.3" dy="-5.4">3</tspan></text>
<text x="306.6" y="482.2" font-size="9.8">10<tspan font-size="5" dx="0.3" dy="-5.4">4</tspan></text>
<text x="315.4" y="654.3" font-size="9.8">10<tspan font-size="5" dx="0.3" dy="-5.4">0</tspan></text>
<text x="359.4" y="654.3" font-size="9.8">10<tspan font-size="5" dx="0.3" dy="-5.4">1</tspan></text>
<text x="398.9" y="654.3" font-size="9.8">10<tspan font-size="5" dx="0.3" dy="-5.4">2</tspan></text>
<text x="441.9" y="654.3" font-size="9.8">10<tspan font-size="5" dx="0.3" dy="-5.4">3</tspan></text>
<text x="482.0" y="654.3" font-size="9.8">10<tspan font-size="5" dx="0.3" dy="-5.4">4</tspan></text>
<text x="406.2" y="668.9" font-size="14" text-anchor="middle">CD34-FITC</text>
<text transform="translate(300.3 560.9) rotate(-90)" font-size="14" text-anchor="middle">CD38-PE</text>
<path d="M370.5 538.5h1M365.5 540.5h1M386 544.5h1M343.5 545.5h1M380.5 548.5h1M364 552.5h1M367 553h1m1.5 0h1M388 553.5h1M364.5 554.5h1m3 0h2M371.5 555.5h1M372.5 556h1M363.5 557h1M364 557.5h1M364.5 559h1M367.5 559.5h1m2.5 0h1m10 0h1m.5 0h1.5M364 560h1M367 560.5h1m1 0h1M355.5 561h1m17.5 0h1M395 561.5h1M365 562h2m2 0h1m.5 0h1m2 0h1M362.5 562.5h1.5m.5 0h1m6 0h2.5m4 0h1m2 0h1M360.5 563h1m6.5 0h1m3.5 0h1m3.5 0h1m3 0h1M373 564h1M369 564.5h1M354 565h1m1.5 0h1m3.5 0h1m2 0h1m5.5 0h1m5.5 0h1M356 565.5h1m7 0h1m7 0h1M366.5 566h1m16.5 0h1M361.5 566.5h1m12 0h1m3.5 0h1M366.5 567h1m.5 0h1m.5 0h1m4.5 0h1M356 567.5h1m3 0h1m7 0h1m11 0h1m10 0h1M368 568h1.5m4.5 0h1m5 0h1M355.5 568.5h1m4 0h1m2.5 0h1m19.5 0h1m7.5 0h1M367.5 569h1m.5 0h1m3.5 0h1m3.5 0h1M365.5 569.5h1.5m2 0h1m1.5 0h1m1 0h1M367 570h1m.5 0h1m2 0h1m1.5 0h1m3 0h1M374.5 570.5h1M354.5 571h1m4 0h1.5m2.5 0h1m4 0h1M349.5 571.5h1m6 0h1m5 0h1m4 0h1m1 0h1m7.5 0h1M369.5 572h1m.5 0h1m3.5 0h1m9 0h1M356 572.5h2m5 0h1m12 0h1m.5 0h2m1 0h1m2 0h1M354.5 573h1m5 0h1m4 0h1m13 0h1M365.5 573.5h1m9 0h1m2 0h1m1 0h1m3.5 0h1M347.5 574h1m15.5 0h1m1 0h1m2 0h1M357 574.5h1.5m2.5 0h1.5m13.5 0h1m14 0h1M365 575h2m8.5 0h1m17 0h1M343.5 575.5h1m12 0h1m9 0h2m2 0h1m10.5 0h1m2.5 0h1M373 576h1m2.5 0h1m1 0h1m1 0h1m5 0h1m3 0h1m.5 0h1M352 576.5h1m10 0h1m5 0h1M356.5 577h1m20.5 0h1m10.5 0h1M361 577.5h1m4 0h1m2 0h1m3 0h1m9 0h1M361.5 578h1m7 0h1m4 0h1m.5 0h1.5m2 0h1M366.5 578.5h1m5 0h1m.5 0h1.5m1 0h1.5m.5 0h1m13.5 0h1m5 0h1M361.5 579h1m.5 0h1m6.5 0h1m2 0h1.5m3 0h1m4 0h1M367 579.5h1m11 0h1M343.5 580h1m15.5 0h1m7.5 0h1m3.5 0h1m9.5 0h1m1.5 0h1M359 580.5h1m3 0h1m4 0h1m1 0h1m1 0h1m6.5 0h1m3.5 0h1m3 0h1M357.5 581h1m1.5 0h1m3 0h1m5.5 0h1m4.5 0h1m1 0h1.5m4 0h2M372 581.5h1.5m1 0h1M359 582h1m2 0h1m1.5 0h1m2.5 0h1.5m1 0h1m1 0h1m6.5 0h1m7.5 0h1M364 582.5h1m3.5 0h1m4 0h1m7.5 0h1m9 0h1m19 0h1M366 583h1m1.5 0h1m1.5 0h1m.5 0h1m2 0h1.5M360 583.5h1m2 0h1.5m2.5 0h1m3 0h3m1.5 0h1m5 0h1m12.5 0h1M351.5 584h1m10 0h1m5 0h1m.5 0h1M351 584.5h1m11.5 0h1.5m1 0h2m4.5 0h1m.5 0h1m5.5 0h1.5m2 0h1m.5 0h1m5 0h1m2 0h1m3 0h1M355 585h1m3.5 0h1m3 0h1m5.5 0h1m9 0h1m7.5 0h1M360 585.5h1m4.5 0h3m1 0h1m1.5 0h1m1 0h1m.5 0h2m2.5 0h1m14.5 0h1M364 586h2m.5 0h1m1.5 0h1m2 0h2m1 0h1m1 0h1m1 0h1m2 0h1m2.5 0h1m6 0h1M361.5 586.5h2m4 0h1m1.5 0h1.5m1.5 0h1m1 0h1m.5 0h1.5m.5 0h1m3.5 0h1m1 0h1m8 0h1M359.5 587h1m2 0h1m1 0h3m1 0h1m2 0h4.5m3.5 0h1.5m3 0h2m4.5 0h1m1.5 0h1M354.5 587.5h1m4 0h1m2.5 0h1m7 0h1.5m3 0h1.5m.5 0h1m.5 0h1.5m.5 0h1m10 0h1m6 0h1M360 588h1.5m1.5 0h1m2 0h1.5m4.5 0h2m1 0h3m1 0h1.5m.5 0h1.5m10 0h1M364 588.5h1m.5 0h2.5m1.5 0h1.5m1 0h1m2 0h1m1 0h1m1 0h1m.5 0h1m13.5 0h1M349.5 589h1m9 0h1m2.5 0h1m1 0h1m3 0h1m1 0h6.5m.5 0h1.5m5.5 0h1m1 0h1m2 0h2m3 0h1M363 589.5h1m2 0h1.5m3 0h1m.5 0h1.5m.5 0h1.5m.5 0h1m.5 0h1m4.5 0h2.5m2.5 0h1m8 0h2M350 590h1m8 0h1.5m.5 0h1m.5 0h1m4 0h3m.5 0h1m1 0h1m4.5 0h1M360.5 590.5h3m2.5 0h3.5m.5 0h1m.5 0h2m2 0h1m1.5 0h1m2.5 0h2.5m2 0h2m12 0h1M341.5 591h1m6 0h1m4 0h1m3 0h2m2.5 0h1m3.5 0h2m3 0h1m2.5 0h1m1.5 0h1m1 0h1.5m.5 0h1m1.5 0h1.5M361.5 591.5h1m2 0h3m.5 0h1m1.5 0h2.5m1 0h2m.5 0h2m1 0h1m.5 0h1m1.5 0h1m11.5 0h1m.5 0h1m1 0h1M358.5 592h2m.5 0h1m2 0h1m.5 0h1m.5 0h2.5m.5 0h2.5m2 0h1m2 0h1.5m8.5 0h1m2.5 0h1m1.5 0h1m.5 0h1M353.5 592.5h1m10 0h2m.5 0h3m2 0h1m1 0h5.5m1 0h1m3.5 0h2M356 593h1m5.5 0h6m1 0h2m.5 0h1m.5 0h3m1 0h5.5m5.5 0h1m23 0h1M344 593.5h1m13.5 0h2m1.5 0h2m.5 0h1.5m2 0h1.5m1.5 0h3.5m1 0h1m1.5 0h2m9 0h2m1 0h1M347.5 594h1m7.5 0h1m3.5 0h1m1.5 0h2m1.5 0h1m.5 0h1m1 0h8m.5 0h3.5m.5 0h2.5m2.5 0h1m.5 0h1m5 0h1.5m2.5 0h1M352.5 594.5h1m5.5 0h2.5m.5 0h1m.5 0h1m1 0h5m1 0h2m1.5 0h1m.5 0h1m.5 0h2m.5 0h1m2 0h2m3 0h2m7.5 0h1m1.5 0h1M346.5 595h1m5 0h1m4 0h1m.5 0h1m1.5 0h3m.5 0h8m.5 0h1m.5 0h4.5m1 0h2m.5 0h1m2 0h1m1.5 0h1m.5 0h1m14 0h1M341.5 595.5h1m8 0h1m1 0h1m2 0h2m1.5 0h1m1 0h1m3.5 0h2.5m.5 0h1.5m.5 0h6m3 0h1.5m2 0h1m1 0h3m1.5 0h1m.5 0h1M356 596h2.5m1.5 0h1m1 0h4.5m.5 0h3m.5 0h4.5m.5 0h3m1.5 0h1m.5 0h1m4 0h1m.5 0h2m3 0h1M351.5 596.5h1m3 0h2m.5 0h1m1 0h1m3 0h2.5m.5 0h1.5m.5 0h6m.5 0h2m.5 0h1m.5 0h1m1 0h1M328.5 597h1m21.5 0h1m4 0h4.5m.5 0h2m1 0h2.5m1 0h3.5m.5 0h1m1.5 0h6m1 0h1m.5 0h1m1 0h2m.5 0h1m1 0h1.5m.5 0h1m2.5 0h1m2.5 0h1M346 597.5h1m6 0h1m3 0h1m1 0h3m2.5 0h6m1 0h4m1 0h2.5m1 0h1m5.5 0h1m1 0h1m5.5 0h1m2.5 0h1.5m.5 0h1m1 0h1M358 598h2m.5 0h2m.5 0h2.5m2 0h6.5m1.5 0h1m2.5 0h5m1 0h1m1 0h1m11 0h1M349 598.5h1m5.5 0h3m1 0h2m2.5 0h1m.5 0h8.5m1 0h5.5m.5 0h1m2 0h1.5m1.5 0h1m2.5 0h1m2.5 0h1.5m3.5 0h1M356 599h1.5m2 0h1m.5 0h2.5m.5 0h1.5m.5 0h7.5m1 0h2.5m.5 0h2.5m.5 0h2m.5 0h1m1 0h1m2.5 0h1M357 599.5h2.5m.5 0h3.5m1.5 0h4.5m.5 0h5.5m1 0h3.5m1 0h1m2 0h1m5 0h1m7.5 0h1M352.5 600h1m2.5 0h1m1 0h2m2 0h6m1 0h8m.5 0h1.5m.5 0h3.5m.5 0h2m1 0h1m1 0h1.5m5.5 0h1M336 600.5h1m21 0h2.5m1 0h3.5m.5 0h10.5m1 0h5m1 0h1m.5 0h1m2.5 0h3m9 0h1M349 601h1m2.5 0h1.5m2 0h1.5m1.5 0h10.5m.5 0h1m.5 0h4.5m1.5 0h3m1 0h1m11 0h1m1.5 0h1m8.5 0h1M346.5 601.5h1m4 0h5.5m1.5 0h7m.5 0h9.5m1.5 0h3.5m1 0h1m1 0h1m1.5 0h1m2 0h1M353 602h1m2.5 0h1m1 0h17.5m.5 0h4m.5 0h1m.5 0h1m7.5 0h1m7.5 0h1M346 602.5h1m6 0h1.5m3.5 0h1m.5 0h2m1.5 0h15.5m1 0h3.5m1 0h3m8.5 0h1m.5 0h1M354 603h1.5m1 0h1.5m2 0h6m1 0h11m1 0h1m.5 0h2m1.5 0h1m3 0h1.5m2 0h1m3 0h1m2.5 0h1M346.5 603.5h1m5 0h2m5 0h1m1 0h2.5m.5 0h4m.5 0h3.5m.5 0h4.5m.5 0h1.5m1.5 0h2M355 604h3.5m.5 0h3m.5 0h1m.5 0h7m.5 0h3.5m1 0h5m1 0h1m.5 0h2m1.5 0h2m5.5 0h2m2 0h1m3.5 0h1M353 604.5h1m3 0h4.5m2 0h19m.5 0h1m6 0h2m.5 0h1m1.5 0h1m5.5 0h1M347 605h2m6.5 0h2.5m.5 0h1m1.5 0h4.5m.5 0h9.5m1 0h3.5m.5 0h2.5m.5 0h1M352 605.5h1.5m6.5 0h4m1 0h2m.5 0h5m.5 0h2.5m.5 0h2.5m.5 0h2m1 0h1m.5 0h1m1.5 0h3.5m3.5 0h1m3 0h1.5M352 606h1m2.5 0h1m.5 0h1m2 0h3m1.5 0h9m.5 0h4m.5 0h2m1 0h1m2 0h1m.5 0h2.5m4 0h1m.5 0h1m.5 0h1m.5 0h1m1.5 0h1M354.5 606.5h1.5m2.5 0h7m1 0h5.5m.5 0h5m1.5 0h1.5m.5 0h3m3.5 0h1.5m1 0h1m1 0h1m8 0h1M356.5 607h3m1 0h11m.5 0h3.5m1 0h2.5m1 0h1m1.5 0h2.5m1.5 0h1m2.5 0h1m10 0h1M356.5 607.5h1m.5 0h2m2 0h1m.5 0h17.5m.5 0h1m.5 0h1m15.5 0h1M345.5 608h1m3 0h1m1 0h1m2.5 0h1m1.5 0h3m1 0h11m.5 0h2.5m1.5 0h2m2 0h3m2.5 0h1m2 0h1m5.5 0h1M355 608.5h1.5m2.5 0h2m.5 0h14m.5 0h2m1 0h1m2.5 0h1m7 0h1M349 609h1m8 0h2m2 0h9m.5 0h2m.5 0h1m.5 0h1m1 0h1m.5 0h1.5m5 0h1m2.5 0h1m3 0h1m2 0h3.5M347.5 609.5h1m7 0h1.5m1.5 0h1m.5 0h1.5m.5 0h2.5m.5 0h8.5m1 0h1.5m.5 0h2m.5 0h2.5m4.5 0h1M345 610h1m2.5 0h1.5m3 0h1.5m2 0h1m1 0h3m.5 0h2m.5 0h9.5m.5 0h4m3.5 0h1.5m5.5 0h1M353.5 610.5h1m1 0h1.5m1 0h1m.5 0h1m1 0h6.5m1 0h10m.5 0h2.5m1 0h1m3 0h1m3 0h1m.5 0h1m1 0h1m4 0h1M350.5 611h1m4.5 0h1.5m.5 0h12.5m.5 0h1.5m1 0h5m1 0h2m.5 0h1m2 0h1m.5 0h1m1 0h1m1.5 0h1M357 611.5h3m.5 0h3m1 0h5.5m.5 0h7.5m.5 0h1m4 0h2m.5 0h1m2.5 0h1.5m1.5 0h1M350 612h1m1 0h1m2.5 0h1m1.5 0h1.5m.5 0h4m.5 0h5m1.5 0h2.5m.5 0h2m1 0h4.5m4 0h1.5m.5 0h1m4.5 0h1m.5 0h1M349 612.5h1m9 0h1m2 0h1m.5 0h6.5m1 0h3.5m.5 0h2.5m.5 0h3m1 0h1m.5 0h1.5m3.5 0h1m1 0h1m3 0h1M352 613h1m3.5 0h2.5m.5 0h1.5m.5 0h1m2 0h2.5m2 0h7.5m.5 0h2m.5 0h1.5m5 0h1M348.5 613.5h1m8.5 0h2m1 0h2m1 0h1m.5 0h6m.5 0h3.5m1.5 0h1m1 0h3m1.5 0h1m9 0h1M352 614h1m4 0h1m.5 0h1.5m1.5 0h1.5m.5 0h8.5m.5 0h1.5m2.5 0h1m.5 0h2.5m3 0h1m2.5 0h2m5 0h1m2 0h1M351.5 614.5h1m.5 0h2m5.5 0h1.5m.5 0h4m1 0h4m1.5 0h2m.5 0h1.5m5 0h1m1 0h1m13 0h1M350.5 615h1m.5 0h1m5 0h2m1 0h10m5 0h1m5 0h2m4.5 0h1m1.5 0h1M348 615.5h1m6.5 0h1.5m.5 0h2.5m1 0h2m1.5 0h3m.5 0h7.5m.5 0h1m1.5 0h1m16 0h1m1.5 0h1M355 616h1m.5 0h4.5m.5 0h1m1 0h4m.5 0h1m.5 0h3m1.5 0h1m.5 0h2m1 0h1m1 0h1.5M353.5 616.5h1m5 0h2m.5 0h5.5m.5 0h1.5m.5 0h2m3.5 0h2m1 0h1m6 0h1m2.5 0h1m1.5 0h1m4 0h1M350 617h1.5m.5 0h1.5m3.5 0h3m5 0h2m1.5 0h3m.5 0h2m4.5 0h1m5.5 0h1m.5 0h2m.5 0h1M351 617.5h1m10.5 0h3m.5 0h2m2 0h3.5m2 0h1m10.5 0h1m2 0h1.5M347 618h1m9.5 0h1m4.5 0h1m.5 0h5.5m.5 0h1.5m4.5 0h5m1 0h1M346.5 618.5h1m6 0h1m1 0h1m6.5 0h3m.5 0h2m1 0h1m.5 0h2m.5 0h1m1.5 0h1m.5 0h1.5m3 0h1m7 0h1m1 0h1m5 0h1M355.5 619h1.5m5 0h1m2 0h1m.5 0h4m.5 0h1m.5 0h2m.5 0h1m1 0h1m1.5 0h1m5 0h1m6.5 0h1M344 619.5h1m8.5 0h1.5m.5 0h1m1 0h2m1 0h1m.5 0h2m1 0h1m.5 0h1m1.5 0h1.5m3 0h1m4.5 0h1m10 0h1M350 620h1m7 0h2m1.5 0h1m2 0h4m1 0h1.5m1 0h1m.5 0h2m6 0h1.5m1 0h1m8 0h1M361.5 620.5h1m.5 0h2m.5 0h1m2.5 0h2m.5 0h2m2.5 0h2.5m3.5 0h1m5 0h1m5 0h1M352.5 621h1m5.5 0h1m.5 0h1.5m1 0h1m2 0h3.5m1 0h2m1.5 0h1m.5 0h2m1.5 0h1m1.5 0h1m1.5 0h1m11 0h1M357 621.5h1m1 0h1m.5 0h1m3.5 0h1m1.5 0h1m.5 0h1m16.5 0h1m.5 0h1m8.5 0h1m1.5 0h1M357.5 622h1m2 0h1m1.5 0h1m2 0h1m1.5 0h2m1 0h3m1.5 0h1m4.5 0h1m11 0h1M353.5 622.5h1m1.5 0h1m1 0h1m.5 0h1m3 0h1m1 0h1m1.5 0h1m5 0h2m3.5 0h1m8.5 0h1M357.5 623h1m2.5 0h1m2.5 0h2m1.5 0h1.5m6 0h1.5m7.5 0h1M343.5 623.5h1m8.5 0h1m6.5 0h2.5m3.5 0h1m1 0h1m2 0h2m.5 0h1m1.5 0h1m1 0h1m2.5 0h1M358.5 624h1m.5 0h1m6 0h1m3 0h1m4.5 0h1m13.5 0h1m10.5 0h1M353 624.5h1m5 0h1m3 0h1m1 0h4m1.5 0h1m3 0h1m14 0h2M359.5 625h1m1.5 0h1m3 0h2M365 625.5h2m3.5 0h1m1 0h1m.5 0h1M352.5 626h1m1.5 0h1m9 0h1m6 0h1m4 0h1m11 0h1M363 626.5h1m2.5 0h1.5m2.5 0h1M355.5 627h1m1.5 0h4m8 0h1m13 0h1m1 0h1M357 627.5h1m15 0h1.5m9 0h1.5M365 628h1m4.5 0h2m12 0h1m4 0h1m2 0h1M352 628.5h1M360.5 629h1m3 0h1m8 0h1M365 629.5h1m6.5 0h3m3.5 0h1M356 630h1m5 0h1m4 0h1m3.5 0h1m9.5 0h1M362 630.5h1m12 0h1M352 631h1m13 0h2.5m3 0h1m6.5 0h1m20 0h1M355 631.5h1m4 0h1.5m20 0h1M356 632h1m8.5 0h2m3.5 0h1m2.5 0h1m.5 0h1M370.5 632.5h1m9.5 0h1M369 633h1M371.5 633.5h1m8.5 0h1M366.5 634h1m7.5 0h1M365.5 634.5h1m14 0h1M359.5 635h1M357 635.5h1m1.5 0h1M357 636h1m1.5 0h1m4 0h1m2.5 0h1M370.5 637.5h1M351.5 638h1m2.5 0h1m13 0h1M366.5 638.5h1m3.5 0h1M373 639h1M376 640h1M357.5 641h1m15.5 0h1m7.5 0h1m2.5 0h1" stroke="#000" stroke-width=".9" fill="none"/>
<text x="328.8" y="489.2" font-size="10.6">8%</text>
<text x="461" y="487.9" font-size="10.6">2%</text>
<text x="328.3" y="636.3" font-size="10.6">84%</text>
<text x="451.2" y="623.3" font-size="10.6">6%</text>
<text x="451.2" y="635.4" font-size="10.6">(630)</text>
</svg>
</body></html>
